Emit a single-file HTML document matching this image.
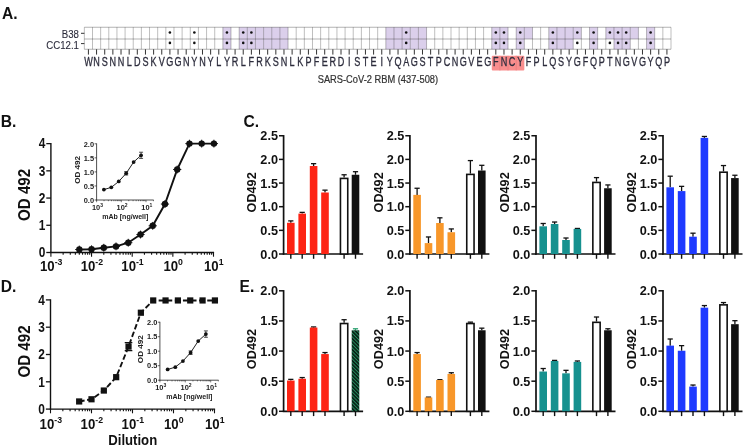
<!DOCTYPE html>
<html><head><meta charset="utf-8"><style>
html,body{margin:0;padding:0;background:#fff;width:744px;height:446px;overflow:hidden}
svg{display:block;filter:blur(0.3px)}
</style></head><body>
<svg width="744" height="446" viewBox="0 0 744 446">
<rect width="744" height="446" fill="#fff"/>
<text x="2" y="18.8" font-family="Liberation Sans, sans-serif" font-weight="bold" font-size="15.6" fill="#111">A.</text>
<rect x="222.86" y="27.25" width="8.15" height="11.65" fill="#dbcfeb"/>
<rect x="222.86" y="38.9" width="8.15" height="10.35" fill="#dbcfeb"/>
<rect x="239.16" y="27.25" width="8.15" height="11.65" fill="#dbcfeb"/>
<rect x="239.16" y="38.9" width="8.15" height="10.35" fill="#dbcfeb"/>
<rect x="247.31" y="27.25" width="8.15" height="11.65" fill="#dbcfeb"/>
<rect x="247.31" y="38.9" width="8.15" height="10.35" fill="#dbcfeb"/>
<rect x="255.46" y="27.25" width="8.15" height="11.65" fill="#dbcfeb"/>
<rect x="255.46" y="38.9" width="8.15" height="10.35" fill="#dbcfeb"/>
<rect x="263.60" y="27.25" width="8.15" height="11.65" fill="#dbcfeb"/>
<rect x="263.60" y="38.9" width="8.15" height="10.35" fill="#dbcfeb"/>
<rect x="271.75" y="27.25" width="8.15" height="11.65" fill="#dbcfeb"/>
<rect x="271.75" y="38.9" width="8.15" height="10.35" fill="#dbcfeb"/>
<rect x="279.90" y="27.25" width="8.15" height="11.65" fill="#dbcfeb"/>
<rect x="279.90" y="38.9" width="8.15" height="10.35" fill="#dbcfeb"/>
<rect x="385.82" y="27.25" width="8.15" height="11.65" fill="#dbcfeb"/>
<rect x="385.82" y="38.9" width="8.15" height="10.35" fill="#dbcfeb"/>
<rect x="393.97" y="27.25" width="8.15" height="11.65" fill="#dbcfeb"/>
<rect x="393.97" y="38.9" width="8.15" height="10.35" fill="#dbcfeb"/>
<rect x="402.12" y="27.25" width="8.15" height="11.65" fill="#dbcfeb"/>
<rect x="402.12" y="38.9" width="8.15" height="10.35" fill="#dbcfeb"/>
<rect x="410.27" y="27.25" width="8.15" height="11.65" fill="#dbcfeb"/>
<rect x="410.27" y="38.9" width="8.15" height="10.35" fill="#dbcfeb"/>
<rect x="418.41" y="27.25" width="8.15" height="11.65" fill="#dbcfeb"/>
<rect x="418.41" y="38.9" width="8.15" height="10.35" fill="#dbcfeb"/>
<rect x="491.75" y="27.25" width="8.15" height="11.65" fill="#dbcfeb"/>
<rect x="491.75" y="38.9" width="8.15" height="10.35" fill="#dbcfeb"/>
<rect x="499.89" y="27.25" width="8.15" height="11.65" fill="#dbcfeb"/>
<rect x="499.89" y="38.9" width="8.15" height="10.35" fill="#dbcfeb"/>
<rect x="516.19" y="27.25" width="8.15" height="11.65" fill="#dbcfeb"/>
<rect x="516.19" y="38.9" width="8.15" height="10.35" fill="#dbcfeb"/>
<rect x="524.34" y="27.25" width="8.15" height="11.65" fill="#dbcfeb"/>
<rect x="548.78" y="27.25" width="8.15" height="11.65" fill="#dbcfeb"/>
<rect x="548.78" y="38.9" width="8.15" height="10.35" fill="#dbcfeb"/>
<rect x="556.93" y="27.25" width="8.15" height="11.65" fill="#dbcfeb"/>
<rect x="556.93" y="38.9" width="8.15" height="10.35" fill="#dbcfeb"/>
<rect x="565.08" y="27.25" width="8.15" height="11.65" fill="#dbcfeb"/>
<rect x="565.08" y="38.9" width="8.15" height="10.35" fill="#dbcfeb"/>
<rect x="573.23" y="27.25" width="8.15" height="11.65" fill="#dbcfeb"/>
<rect x="589.52" y="27.25" width="8.15" height="11.65" fill="#dbcfeb"/>
<rect x="589.52" y="38.9" width="8.15" height="10.35" fill="#dbcfeb"/>
<rect x="605.82" y="27.25" width="8.15" height="11.65" fill="#dbcfeb"/>
<rect x="613.96" y="27.25" width="8.15" height="11.65" fill="#dbcfeb"/>
<rect x="613.96" y="38.9" width="8.15" height="10.35" fill="#dbcfeb"/>
<rect x="622.11" y="27.25" width="8.15" height="11.65" fill="#dbcfeb"/>
<rect x="622.11" y="38.9" width="8.15" height="10.35" fill="#dbcfeb"/>
<rect x="630.26" y="27.25" width="8.15" height="11.65" fill="#dbcfeb"/>
<rect x="646.56" y="27.25" width="8.15" height="11.65" fill="#dbcfeb"/>
<rect x="646.56" y="38.9" width="8.15" height="10.35" fill="#dbcfeb"/>
<line x1="84.35" y1="27.25" x2="84.35" y2="49.25" stroke="#000" stroke-opacity="0.27" stroke-width="0.95"/>
<line x1="92.50" y1="27.25" x2="92.50" y2="49.25" stroke="#000" stroke-opacity="0.27" stroke-width="0.95"/>
<line x1="100.65" y1="27.25" x2="100.65" y2="49.25" stroke="#000" stroke-opacity="0.27" stroke-width="0.95"/>
<line x1="108.79" y1="27.25" x2="108.79" y2="49.25" stroke="#000" stroke-opacity="0.27" stroke-width="0.95"/>
<line x1="116.94" y1="27.25" x2="116.94" y2="49.25" stroke="#000" stroke-opacity="0.27" stroke-width="0.95"/>
<line x1="125.09" y1="27.25" x2="125.09" y2="49.25" stroke="#000" stroke-opacity="0.27" stroke-width="0.95"/>
<line x1="133.24" y1="27.25" x2="133.24" y2="49.25" stroke="#000" stroke-opacity="0.27" stroke-width="0.95"/>
<line x1="141.39" y1="27.25" x2="141.39" y2="49.25" stroke="#000" stroke-opacity="0.27" stroke-width="0.95"/>
<line x1="149.53" y1="27.25" x2="149.53" y2="49.25" stroke="#000" stroke-opacity="0.27" stroke-width="0.95"/>
<line x1="157.68" y1="27.25" x2="157.68" y2="49.25" stroke="#000" stroke-opacity="0.27" stroke-width="0.95"/>
<line x1="165.83" y1="27.25" x2="165.83" y2="49.25" stroke="#000" stroke-opacity="0.27" stroke-width="0.95"/>
<line x1="173.98" y1="27.25" x2="173.98" y2="49.25" stroke="#000" stroke-opacity="0.27" stroke-width="0.95"/>
<line x1="182.12" y1="27.25" x2="182.12" y2="49.25" stroke="#000" stroke-opacity="0.27" stroke-width="0.95"/>
<line x1="190.27" y1="27.25" x2="190.27" y2="49.25" stroke="#000" stroke-opacity="0.27" stroke-width="0.95"/>
<line x1="198.42" y1="27.25" x2="198.42" y2="49.25" stroke="#000" stroke-opacity="0.27" stroke-width="0.95"/>
<line x1="206.57" y1="27.25" x2="206.57" y2="49.25" stroke="#000" stroke-opacity="0.27" stroke-width="0.95"/>
<line x1="214.72" y1="27.25" x2="214.72" y2="49.25" stroke="#000" stroke-opacity="0.27" stroke-width="0.95"/>
<line x1="222.86" y1="27.25" x2="222.86" y2="49.25" stroke="#000" stroke-opacity="0.27" stroke-width="0.95"/>
<line x1="231.01" y1="27.25" x2="231.01" y2="49.25" stroke="#000" stroke-opacity="0.27" stroke-width="0.95"/>
<line x1="239.16" y1="27.25" x2="239.16" y2="49.25" stroke="#000" stroke-opacity="0.27" stroke-width="0.95"/>
<line x1="247.31" y1="27.25" x2="247.31" y2="49.25" stroke="#000" stroke-opacity="0.27" stroke-width="0.95"/>
<line x1="255.46" y1="27.25" x2="255.46" y2="49.25" stroke="#000" stroke-opacity="0.27" stroke-width="0.95"/>
<line x1="263.60" y1="27.25" x2="263.60" y2="49.25" stroke="#000" stroke-opacity="0.27" stroke-width="0.95"/>
<line x1="271.75" y1="27.25" x2="271.75" y2="49.25" stroke="#000" stroke-opacity="0.27" stroke-width="0.95"/>
<line x1="279.90" y1="27.25" x2="279.90" y2="49.25" stroke="#000" stroke-opacity="0.27" stroke-width="0.95"/>
<line x1="288.05" y1="27.25" x2="288.05" y2="49.25" stroke="#000" stroke-opacity="0.27" stroke-width="0.95"/>
<line x1="296.20" y1="27.25" x2="296.20" y2="49.25" stroke="#000" stroke-opacity="0.27" stroke-width="0.95"/>
<line x1="304.34" y1="27.25" x2="304.34" y2="49.25" stroke="#000" stroke-opacity="0.27" stroke-width="0.95"/>
<line x1="312.49" y1="27.25" x2="312.49" y2="49.25" stroke="#000" stroke-opacity="0.27" stroke-width="0.95"/>
<line x1="320.64" y1="27.25" x2="320.64" y2="49.25" stroke="#000" stroke-opacity="0.27" stroke-width="0.95"/>
<line x1="328.79" y1="27.25" x2="328.79" y2="49.25" stroke="#000" stroke-opacity="0.27" stroke-width="0.95"/>
<line x1="336.94" y1="27.25" x2="336.94" y2="49.25" stroke="#000" stroke-opacity="0.27" stroke-width="0.95"/>
<line x1="345.08" y1="27.25" x2="345.08" y2="49.25" stroke="#000" stroke-opacity="0.27" stroke-width="0.95"/>
<line x1="353.23" y1="27.25" x2="353.23" y2="49.25" stroke="#000" stroke-opacity="0.27" stroke-width="0.95"/>
<line x1="361.38" y1="27.25" x2="361.38" y2="49.25" stroke="#000" stroke-opacity="0.27" stroke-width="0.95"/>
<line x1="369.53" y1="27.25" x2="369.53" y2="49.25" stroke="#000" stroke-opacity="0.27" stroke-width="0.95"/>
<line x1="377.68" y1="27.25" x2="377.68" y2="49.25" stroke="#000" stroke-opacity="0.27" stroke-width="0.95"/>
<line x1="385.82" y1="27.25" x2="385.82" y2="49.25" stroke="#000" stroke-opacity="0.27" stroke-width="0.95"/>
<line x1="393.97" y1="27.25" x2="393.97" y2="49.25" stroke="#000" stroke-opacity="0.27" stroke-width="0.95"/>
<line x1="402.12" y1="27.25" x2="402.12" y2="49.25" stroke="#000" stroke-opacity="0.27" stroke-width="0.95"/>
<line x1="410.27" y1="27.25" x2="410.27" y2="49.25" stroke="#000" stroke-opacity="0.27" stroke-width="0.95"/>
<line x1="418.41" y1="27.25" x2="418.41" y2="49.25" stroke="#000" stroke-opacity="0.27" stroke-width="0.95"/>
<line x1="426.56" y1="27.25" x2="426.56" y2="49.25" stroke="#000" stroke-opacity="0.27" stroke-width="0.95"/>
<line x1="434.71" y1="27.25" x2="434.71" y2="49.25" stroke="#000" stroke-opacity="0.27" stroke-width="0.95"/>
<line x1="442.86" y1="27.25" x2="442.86" y2="49.25" stroke="#000" stroke-opacity="0.27" stroke-width="0.95"/>
<line x1="451.01" y1="27.25" x2="451.01" y2="49.25" stroke="#000" stroke-opacity="0.27" stroke-width="0.95"/>
<line x1="459.15" y1="27.25" x2="459.15" y2="49.25" stroke="#000" stroke-opacity="0.27" stroke-width="0.95"/>
<line x1="467.30" y1="27.25" x2="467.30" y2="49.25" stroke="#000" stroke-opacity="0.27" stroke-width="0.95"/>
<line x1="475.45" y1="27.25" x2="475.45" y2="49.25" stroke="#000" stroke-opacity="0.27" stroke-width="0.95"/>
<line x1="483.60" y1="27.25" x2="483.60" y2="49.25" stroke="#000" stroke-opacity="0.27" stroke-width="0.95"/>
<line x1="491.75" y1="27.25" x2="491.75" y2="49.25" stroke="#000" stroke-opacity="0.27" stroke-width="0.95"/>
<line x1="499.89" y1="27.25" x2="499.89" y2="49.25" stroke="#000" stroke-opacity="0.27" stroke-width="0.95"/>
<line x1="508.04" y1="27.25" x2="508.04" y2="49.25" stroke="#000" stroke-opacity="0.27" stroke-width="0.95"/>
<line x1="516.19" y1="27.25" x2="516.19" y2="49.25" stroke="#000" stroke-opacity="0.27" stroke-width="0.95"/>
<line x1="524.34" y1="27.25" x2="524.34" y2="49.25" stroke="#000" stroke-opacity="0.27" stroke-width="0.95"/>
<line x1="532.49" y1="27.25" x2="532.49" y2="49.25" stroke="#000" stroke-opacity="0.27" stroke-width="0.95"/>
<line x1="540.63" y1="27.25" x2="540.63" y2="49.25" stroke="#000" stroke-opacity="0.27" stroke-width="0.95"/>
<line x1="548.78" y1="27.25" x2="548.78" y2="49.25" stroke="#000" stroke-opacity="0.27" stroke-width="0.95"/>
<line x1="556.93" y1="27.25" x2="556.93" y2="49.25" stroke="#000" stroke-opacity="0.27" stroke-width="0.95"/>
<line x1="565.08" y1="27.25" x2="565.08" y2="49.25" stroke="#000" stroke-opacity="0.27" stroke-width="0.95"/>
<line x1="573.23" y1="27.25" x2="573.23" y2="49.25" stroke="#000" stroke-opacity="0.27" stroke-width="0.95"/>
<line x1="581.37" y1="27.25" x2="581.37" y2="49.25" stroke="#000" stroke-opacity="0.27" stroke-width="0.95"/>
<line x1="589.52" y1="27.25" x2="589.52" y2="49.25" stroke="#000" stroke-opacity="0.27" stroke-width="0.95"/>
<line x1="597.67" y1="27.25" x2="597.67" y2="49.25" stroke="#000" stroke-opacity="0.27" stroke-width="0.95"/>
<line x1="605.82" y1="27.25" x2="605.82" y2="49.25" stroke="#000" stroke-opacity="0.27" stroke-width="0.95"/>
<line x1="613.96" y1="27.25" x2="613.96" y2="49.25" stroke="#000" stroke-opacity="0.27" stroke-width="0.95"/>
<line x1="622.11" y1="27.25" x2="622.11" y2="49.25" stroke="#000" stroke-opacity="0.27" stroke-width="0.95"/>
<line x1="630.26" y1="27.25" x2="630.26" y2="49.25" stroke="#000" stroke-opacity="0.27" stroke-width="0.95"/>
<line x1="638.41" y1="27.25" x2="638.41" y2="49.25" stroke="#000" stroke-opacity="0.27" stroke-width="0.95"/>
<line x1="646.56" y1="27.25" x2="646.56" y2="49.25" stroke="#000" stroke-opacity="0.27" stroke-width="0.95"/>
<line x1="654.70" y1="27.25" x2="654.70" y2="49.25" stroke="#000" stroke-opacity="0.27" stroke-width="0.95"/>
<line x1="662.85" y1="27.25" x2="662.85" y2="49.25" stroke="#000" stroke-opacity="0.27" stroke-width="0.95"/>
<line x1="671.00" y1="27.25" x2="671.00" y2="49.25" stroke="#000" stroke-opacity="0.27" stroke-width="0.95"/>
<line x1="84.35" y1="27.25" x2="671.00" y2="27.25" stroke="#000" stroke-opacity="0.3" stroke-width="1.05"/>
<line x1="84.35" y1="38.9" x2="671.00" y2="38.9" stroke="#000" stroke-opacity="0.3" stroke-width="1.05"/>
<line x1="84.35" y1="49.25" x2="671.00" y2="49.25" stroke="#000" stroke-opacity="0.3" stroke-width="1.05"/>
<line x1="88.42" y1="49.25" x2="88.42" y2="54.6" stroke="#333" stroke-width="1.0"/>
<line x1="96.57" y1="49.25" x2="96.57" y2="54.6" stroke="#333" stroke-width="1.0"/>
<line x1="104.72" y1="49.25" x2="104.72" y2="54.6" stroke="#333" stroke-width="1.0"/>
<line x1="112.87" y1="49.25" x2="112.87" y2="54.6" stroke="#333" stroke-width="1.0"/>
<line x1="121.02" y1="49.25" x2="121.02" y2="54.6" stroke="#333" stroke-width="1.0"/>
<line x1="129.16" y1="49.25" x2="129.16" y2="54.6" stroke="#333" stroke-width="1.0"/>
<line x1="137.31" y1="49.25" x2="137.31" y2="54.6" stroke="#333" stroke-width="1.0"/>
<line x1="145.46" y1="49.25" x2="145.46" y2="54.6" stroke="#333" stroke-width="1.0"/>
<line x1="153.61" y1="49.25" x2="153.61" y2="54.6" stroke="#333" stroke-width="1.0"/>
<line x1="161.76" y1="49.25" x2="161.76" y2="54.6" stroke="#333" stroke-width="1.0"/>
<circle cx="169.90" cy="32.5" r="1.3" fill="#111"/>
<circle cx="169.90" cy="42.9" r="1.3" fill="#111"/>
<line x1="169.90" y1="49.25" x2="169.90" y2="54.6" stroke="#333" stroke-width="1.0"/>
<line x1="178.05" y1="49.25" x2="178.05" y2="54.6" stroke="#333" stroke-width="1.0"/>
<line x1="186.20" y1="49.25" x2="186.20" y2="54.6" stroke="#333" stroke-width="1.0"/>
<circle cx="194.35" cy="32.5" r="1.3" fill="#111"/>
<circle cx="194.35" cy="42.9" r="1.3" fill="#111"/>
<line x1="194.35" y1="49.25" x2="194.35" y2="54.6" stroke="#333" stroke-width="1.0"/>
<line x1="202.49" y1="49.25" x2="202.49" y2="54.6" stroke="#333" stroke-width="1.0"/>
<line x1="210.64" y1="49.25" x2="210.64" y2="54.6" stroke="#333" stroke-width="1.0"/>
<line x1="218.79" y1="49.25" x2="218.79" y2="54.6" stroke="#333" stroke-width="1.0"/>
<circle cx="226.94" cy="32.5" r="1.3" fill="#111"/>
<circle cx="226.94" cy="42.9" r="1.3" fill="#111"/>
<line x1="226.94" y1="49.25" x2="226.94" y2="54.6" stroke="#333" stroke-width="1.0"/>
<line x1="235.09" y1="49.25" x2="235.09" y2="54.6" stroke="#333" stroke-width="1.0"/>
<circle cx="243.23" cy="32.5" r="1.3" fill="#111"/>
<circle cx="243.23" cy="42.9" r="1.3" fill="#111"/>
<line x1="243.23" y1="49.25" x2="243.23" y2="54.6" stroke="#333" stroke-width="1.0"/>
<circle cx="251.38" cy="32.5" r="1.3" fill="#111"/>
<circle cx="251.38" cy="42.9" r="1.3" fill="#111"/>
<line x1="251.38" y1="49.25" x2="251.38" y2="54.6" stroke="#333" stroke-width="1.0"/>
<line x1="259.53" y1="49.25" x2="259.53" y2="54.6" stroke="#333" stroke-width="1.0"/>
<line x1="267.68" y1="49.25" x2="267.68" y2="54.6" stroke="#333" stroke-width="1.0"/>
<line x1="275.83" y1="49.25" x2="275.83" y2="54.6" stroke="#333" stroke-width="1.0"/>
<line x1="283.97" y1="49.25" x2="283.97" y2="54.6" stroke="#333" stroke-width="1.0"/>
<line x1="292.12" y1="49.25" x2="292.12" y2="54.6" stroke="#333" stroke-width="1.0"/>
<line x1="300.27" y1="49.25" x2="300.27" y2="54.6" stroke="#333" stroke-width="1.0"/>
<line x1="308.42" y1="49.25" x2="308.42" y2="54.6" stroke="#333" stroke-width="1.0"/>
<line x1="316.57" y1="49.25" x2="316.57" y2="54.6" stroke="#333" stroke-width="1.0"/>
<line x1="324.71" y1="49.25" x2="324.71" y2="54.6" stroke="#333" stroke-width="1.0"/>
<line x1="332.86" y1="49.25" x2="332.86" y2="54.6" stroke="#333" stroke-width="1.0"/>
<line x1="341.01" y1="49.25" x2="341.01" y2="54.6" stroke="#333" stroke-width="1.0"/>
<line x1="349.16" y1="49.25" x2="349.16" y2="54.6" stroke="#333" stroke-width="1.0"/>
<line x1="357.31" y1="49.25" x2="357.31" y2="54.6" stroke="#333" stroke-width="1.0"/>
<line x1="365.45" y1="49.25" x2="365.45" y2="54.6" stroke="#333" stroke-width="1.0"/>
<line x1="373.60" y1="49.25" x2="373.60" y2="54.6" stroke="#333" stroke-width="1.0"/>
<line x1="381.75" y1="49.25" x2="381.75" y2="54.6" stroke="#333" stroke-width="1.0"/>
<line x1="389.90" y1="49.25" x2="389.90" y2="54.6" stroke="#333" stroke-width="1.0"/>
<line x1="398.04" y1="49.25" x2="398.04" y2="54.6" stroke="#333" stroke-width="1.0"/>
<circle cx="406.19" cy="32.5" r="1.3" fill="#111"/>
<circle cx="406.19" cy="42.9" r="1.3" fill="#111"/>
<line x1="406.19" y1="49.25" x2="406.19" y2="54.6" stroke="#333" stroke-width="1.0"/>
<line x1="414.34" y1="49.25" x2="414.34" y2="54.6" stroke="#333" stroke-width="1.0"/>
<line x1="422.49" y1="49.25" x2="422.49" y2="54.6" stroke="#333" stroke-width="1.0"/>
<line x1="430.64" y1="49.25" x2="430.64" y2="54.6" stroke="#333" stroke-width="1.0"/>
<line x1="438.78" y1="49.25" x2="438.78" y2="54.6" stroke="#333" stroke-width="1.0"/>
<line x1="446.93" y1="49.25" x2="446.93" y2="54.6" stroke="#333" stroke-width="1.0"/>
<line x1="455.08" y1="49.25" x2="455.08" y2="54.6" stroke="#333" stroke-width="1.0"/>
<line x1="463.23" y1="49.25" x2="463.23" y2="54.6" stroke="#333" stroke-width="1.0"/>
<line x1="471.38" y1="49.25" x2="471.38" y2="54.6" stroke="#333" stroke-width="1.0"/>
<line x1="479.52" y1="49.25" x2="479.52" y2="54.6" stroke="#333" stroke-width="1.0"/>
<line x1="487.67" y1="49.25" x2="487.67" y2="54.6" stroke="#333" stroke-width="1.0"/>
<circle cx="495.82" cy="32.5" r="1.3" fill="#111"/>
<circle cx="495.82" cy="42.9" r="1.3" fill="#111"/>
<line x1="495.82" y1="49.25" x2="495.82" y2="54.6" stroke="#333" stroke-width="1.0"/>
<circle cx="503.97" cy="32.5" r="1.3" fill="#111"/>
<circle cx="503.97" cy="42.9" r="1.3" fill="#111"/>
<line x1="503.97" y1="49.25" x2="503.97" y2="54.6" stroke="#333" stroke-width="1.0"/>
<line x1="512.12" y1="49.25" x2="512.12" y2="54.6" stroke="#333" stroke-width="1.0"/>
<circle cx="520.26" cy="32.5" r="1.3" fill="#111"/>
<circle cx="520.26" cy="42.9" r="1.3" fill="#111"/>
<line x1="520.26" y1="49.25" x2="520.26" y2="54.6" stroke="#333" stroke-width="1.0"/>
<line x1="528.41" y1="49.25" x2="528.41" y2="54.6" stroke="#333" stroke-width="1.0"/>
<line x1="536.56" y1="49.25" x2="536.56" y2="54.6" stroke="#333" stroke-width="1.0"/>
<line x1="544.71" y1="49.25" x2="544.71" y2="54.6" stroke="#333" stroke-width="1.0"/>
<circle cx="552.86" cy="32.5" r="1.3" fill="#111"/>
<circle cx="552.86" cy="42.9" r="1.3" fill="#111"/>
<line x1="552.86" y1="49.25" x2="552.86" y2="54.6" stroke="#333" stroke-width="1.0"/>
<line x1="561.00" y1="49.25" x2="561.00" y2="54.6" stroke="#333" stroke-width="1.0"/>
<line x1="569.15" y1="49.25" x2="569.15" y2="54.6" stroke="#333" stroke-width="1.0"/>
<circle cx="577.30" cy="32.5" r="1.3" fill="#111"/>
<circle cx="577.30" cy="42.9" r="1.3" fill="#111"/>
<line x1="577.30" y1="49.25" x2="577.30" y2="54.6" stroke="#333" stroke-width="1.0"/>
<line x1="585.45" y1="49.25" x2="585.45" y2="54.6" stroke="#333" stroke-width="1.0"/>
<circle cx="593.59" cy="32.5" r="1.3" fill="#111"/>
<circle cx="593.59" cy="42.9" r="1.3" fill="#111"/>
<line x1="593.59" y1="49.25" x2="593.59" y2="54.6" stroke="#333" stroke-width="1.0"/>
<line x1="601.74" y1="49.25" x2="601.74" y2="54.6" stroke="#333" stroke-width="1.0"/>
<circle cx="609.89" cy="32.5" r="1.3" fill="#111"/>
<circle cx="609.89" cy="42.9" r="1.3" fill="#111"/>
<line x1="609.89" y1="49.25" x2="609.89" y2="54.6" stroke="#333" stroke-width="1.0"/>
<circle cx="618.04" cy="32.5" r="1.3" fill="#111"/>
<circle cx="618.04" cy="42.9" r="1.3" fill="#111"/>
<line x1="618.04" y1="49.25" x2="618.04" y2="54.6" stroke="#333" stroke-width="1.0"/>
<circle cx="626.19" cy="32.5" r="1.3" fill="#111"/>
<circle cx="626.19" cy="42.9" r="1.3" fill="#111"/>
<line x1="626.19" y1="49.25" x2="626.19" y2="54.6" stroke="#333" stroke-width="1.0"/>
<line x1="634.33" y1="49.25" x2="634.33" y2="54.6" stroke="#333" stroke-width="1.0"/>
<line x1="642.48" y1="49.25" x2="642.48" y2="54.6" stroke="#333" stroke-width="1.0"/>
<circle cx="650.63" cy="32.5" r="1.3" fill="#111"/>
<circle cx="650.63" cy="42.9" r="1.3" fill="#111"/>
<line x1="650.63" y1="49.25" x2="650.63" y2="54.6" stroke="#333" stroke-width="1.0"/>
<line x1="658.78" y1="49.25" x2="658.78" y2="54.6" stroke="#333" stroke-width="1.0"/>
<line x1="666.93" y1="49.25" x2="666.93" y2="54.6" stroke="#333" stroke-width="1.0"/>
<rect x="491.75" y="55.7" width="32.59" height="14.8" rx="1" fill="#f98e8e"/>
<line x1="499.89" y1="55.7" x2="499.89" y2="70.5" stroke="#e87878" stroke-width="0.6"/>
<line x1="508.04" y1="55.7" x2="508.04" y2="70.5" stroke="#e87878" stroke-width="0.6"/>
<line x1="516.19" y1="55.7" x2="516.19" y2="70.5" stroke="#e87878" stroke-width="0.6"/>
<text x="117.90" y="66.5" transform="scale(0.75,1)" font-family="Liberation Sans, sans-serif" font-size="12.1" fill="#2c2c3c" stroke="#2c2c3c" stroke-width="0.3" text-anchor="middle">W</text>
<text x="128.76" y="66.5" transform="scale(0.75,1)" font-family="Liberation Sans, sans-serif" font-size="12.1" fill="#2c2c3c" stroke="#2c2c3c" stroke-width="0.3" text-anchor="middle">N</text>
<text x="139.63" y="66.5" transform="scale(0.75,1)" font-family="Liberation Sans, sans-serif" font-size="12.1" fill="#2c2c3c" stroke="#2c2c3c" stroke-width="0.3" text-anchor="middle">S</text>
<text x="150.49" y="66.5" transform="scale(0.75,1)" font-family="Liberation Sans, sans-serif" font-size="12.1" fill="#2c2c3c" stroke="#2c2c3c" stroke-width="0.3" text-anchor="middle">N</text>
<text x="161.35" y="66.5" transform="scale(0.75,1)" font-family="Liberation Sans, sans-serif" font-size="12.1" fill="#2c2c3c" stroke="#2c2c3c" stroke-width="0.3" text-anchor="middle">N</text>
<text x="172.22" y="66.5" transform="scale(0.75,1)" font-family="Liberation Sans, sans-serif" font-size="12.1" fill="#2c2c3c" stroke="#2c2c3c" stroke-width="0.3" text-anchor="middle">L</text>
<text x="183.08" y="66.5" transform="scale(0.75,1)" font-family="Liberation Sans, sans-serif" font-size="12.1" fill="#2c2c3c" stroke="#2c2c3c" stroke-width="0.3" text-anchor="middle">D</text>
<text x="193.95" y="66.5" transform="scale(0.75,1)" font-family="Liberation Sans, sans-serif" font-size="12.1" fill="#2c2c3c" stroke="#2c2c3c" stroke-width="0.3" text-anchor="middle">S</text>
<text x="204.81" y="66.5" transform="scale(0.75,1)" font-family="Liberation Sans, sans-serif" font-size="12.1" fill="#2c2c3c" stroke="#2c2c3c" stroke-width="0.3" text-anchor="middle">K</text>
<text x="215.67" y="66.5" transform="scale(0.75,1)" font-family="Liberation Sans, sans-serif" font-size="12.1" fill="#2c2c3c" stroke="#2c2c3c" stroke-width="0.3" text-anchor="middle">V</text>
<text x="226.54" y="66.5" transform="scale(0.75,1)" font-family="Liberation Sans, sans-serif" font-size="12.1" fill="#2c2c3c" stroke="#2c2c3c" stroke-width="0.3" text-anchor="middle">G</text>
<text x="237.40" y="66.5" transform="scale(0.75,1)" font-family="Liberation Sans, sans-serif" font-size="12.1" fill="#2c2c3c" stroke="#2c2c3c" stroke-width="0.3" text-anchor="middle">G</text>
<text x="248.27" y="66.5" transform="scale(0.75,1)" font-family="Liberation Sans, sans-serif" font-size="12.1" fill="#2c2c3c" stroke="#2c2c3c" stroke-width="0.3" text-anchor="middle">N</text>
<text x="259.13" y="66.5" transform="scale(0.75,1)" font-family="Liberation Sans, sans-serif" font-size="12.1" fill="#2c2c3c" stroke="#2c2c3c" stroke-width="0.3" text-anchor="middle">Y</text>
<text x="269.99" y="66.5" transform="scale(0.75,1)" font-family="Liberation Sans, sans-serif" font-size="12.1" fill="#2c2c3c" stroke="#2c2c3c" stroke-width="0.3" text-anchor="middle">N</text>
<text x="280.86" y="66.5" transform="scale(0.75,1)" font-family="Liberation Sans, sans-serif" font-size="12.1" fill="#2c2c3c" stroke="#2c2c3c" stroke-width="0.3" text-anchor="middle">Y</text>
<text x="291.72" y="66.5" transform="scale(0.75,1)" font-family="Liberation Sans, sans-serif" font-size="12.1" fill="#2c2c3c" stroke="#2c2c3c" stroke-width="0.3" text-anchor="middle">L</text>
<text x="302.58" y="66.5" transform="scale(0.75,1)" font-family="Liberation Sans, sans-serif" font-size="12.1" fill="#2c2c3c" stroke="#2c2c3c" stroke-width="0.3" text-anchor="middle">Y</text>
<text x="313.45" y="66.5" transform="scale(0.75,1)" font-family="Liberation Sans, sans-serif" font-size="12.1" fill="#2c2c3c" stroke="#2c2c3c" stroke-width="0.3" text-anchor="middle">R</text>
<text x="324.31" y="66.5" transform="scale(0.75,1)" font-family="Liberation Sans, sans-serif" font-size="12.1" fill="#2c2c3c" stroke="#2c2c3c" stroke-width="0.3" text-anchor="middle">L</text>
<text x="335.18" y="66.5" transform="scale(0.75,1)" font-family="Liberation Sans, sans-serif" font-size="12.1" fill="#2c2c3c" stroke="#2c2c3c" stroke-width="0.3" text-anchor="middle">F</text>
<text x="346.04" y="66.5" transform="scale(0.75,1)" font-family="Liberation Sans, sans-serif" font-size="12.1" fill="#2c2c3c" stroke="#2c2c3c" stroke-width="0.3" text-anchor="middle">R</text>
<text x="356.90" y="66.5" transform="scale(0.75,1)" font-family="Liberation Sans, sans-serif" font-size="12.1" fill="#2c2c3c" stroke="#2c2c3c" stroke-width="0.3" text-anchor="middle">K</text>
<text x="367.77" y="66.5" transform="scale(0.75,1)" font-family="Liberation Sans, sans-serif" font-size="12.1" fill="#2c2c3c" stroke="#2c2c3c" stroke-width="0.3" text-anchor="middle">S</text>
<text x="378.63" y="66.5" transform="scale(0.75,1)" font-family="Liberation Sans, sans-serif" font-size="12.1" fill="#2c2c3c" stroke="#2c2c3c" stroke-width="0.3" text-anchor="middle">N</text>
<text x="389.50" y="66.5" transform="scale(0.75,1)" font-family="Liberation Sans, sans-serif" font-size="12.1" fill="#2c2c3c" stroke="#2c2c3c" stroke-width="0.3" text-anchor="middle">L</text>
<text x="400.36" y="66.5" transform="scale(0.75,1)" font-family="Liberation Sans, sans-serif" font-size="12.1" fill="#2c2c3c" stroke="#2c2c3c" stroke-width="0.3" text-anchor="middle">K</text>
<text x="411.22" y="66.5" transform="scale(0.75,1)" font-family="Liberation Sans, sans-serif" font-size="12.1" fill="#2c2c3c" stroke="#2c2c3c" stroke-width="0.3" text-anchor="middle">P</text>
<text x="422.09" y="66.5" transform="scale(0.75,1)" font-family="Liberation Sans, sans-serif" font-size="12.1" fill="#2c2c3c" stroke="#2c2c3c" stroke-width="0.3" text-anchor="middle">F</text>
<text x="432.95" y="66.5" transform="scale(0.75,1)" font-family="Liberation Sans, sans-serif" font-size="12.1" fill="#2c2c3c" stroke="#2c2c3c" stroke-width="0.3" text-anchor="middle">E</text>
<text x="443.82" y="66.5" transform="scale(0.75,1)" font-family="Liberation Sans, sans-serif" font-size="12.1" fill="#2c2c3c" stroke="#2c2c3c" stroke-width="0.3" text-anchor="middle">R</text>
<text x="454.68" y="66.5" transform="scale(0.75,1)" font-family="Liberation Sans, sans-serif" font-size="12.1" fill="#2c2c3c" stroke="#2c2c3c" stroke-width="0.3" text-anchor="middle">D</text>
<text x="465.54" y="66.5" transform="scale(0.75,1)" font-family="Liberation Sans, sans-serif" font-size="12.1" fill="#2c2c3c" stroke="#2c2c3c" stroke-width="0.3" text-anchor="middle">I</text>
<text x="476.41" y="66.5" transform="scale(0.75,1)" font-family="Liberation Sans, sans-serif" font-size="12.1" fill="#2c2c3c" stroke="#2c2c3c" stroke-width="0.3" text-anchor="middle">S</text>
<text x="487.27" y="66.5" transform="scale(0.75,1)" font-family="Liberation Sans, sans-serif" font-size="12.1" fill="#2c2c3c" stroke="#2c2c3c" stroke-width="0.3" text-anchor="middle">T</text>
<text x="498.13" y="66.5" transform="scale(0.75,1)" font-family="Liberation Sans, sans-serif" font-size="12.1" fill="#2c2c3c" stroke="#2c2c3c" stroke-width="0.3" text-anchor="middle">E</text>
<text x="509.00" y="66.5" transform="scale(0.75,1)" font-family="Liberation Sans, sans-serif" font-size="12.1" fill="#2c2c3c" stroke="#2c2c3c" stroke-width="0.3" text-anchor="middle">I</text>
<text x="519.86" y="66.5" transform="scale(0.75,1)" font-family="Liberation Sans, sans-serif" font-size="12.1" fill="#2c2c3c" stroke="#2c2c3c" stroke-width="0.3" text-anchor="middle">Y</text>
<text x="530.73" y="66.5" transform="scale(0.75,1)" font-family="Liberation Sans, sans-serif" font-size="12.1" fill="#2c2c3c" stroke="#2c2c3c" stroke-width="0.3" text-anchor="middle">Q</text>
<text x="541.59" y="66.5" transform="scale(0.75,1)" font-family="Liberation Sans, sans-serif" font-size="12.1" fill="#2c2c3c" stroke="#2c2c3c" stroke-width="0.3" text-anchor="middle">A</text>
<text x="552.45" y="66.5" transform="scale(0.75,1)" font-family="Liberation Sans, sans-serif" font-size="12.1" fill="#2c2c3c" stroke="#2c2c3c" stroke-width="0.3" text-anchor="middle">G</text>
<text x="563.32" y="66.5" transform="scale(0.75,1)" font-family="Liberation Sans, sans-serif" font-size="12.1" fill="#2c2c3c" stroke="#2c2c3c" stroke-width="0.3" text-anchor="middle">S</text>
<text x="574.18" y="66.5" transform="scale(0.75,1)" font-family="Liberation Sans, sans-serif" font-size="12.1" fill="#2c2c3c" stroke="#2c2c3c" stroke-width="0.3" text-anchor="middle">T</text>
<text x="585.05" y="66.5" transform="scale(0.75,1)" font-family="Liberation Sans, sans-serif" font-size="12.1" fill="#2c2c3c" stroke="#2c2c3c" stroke-width="0.3" text-anchor="middle">P</text>
<text x="595.91" y="66.5" transform="scale(0.75,1)" font-family="Liberation Sans, sans-serif" font-size="12.1" fill="#2c2c3c" stroke="#2c2c3c" stroke-width="0.3" text-anchor="middle">C</text>
<text x="606.77" y="66.5" transform="scale(0.75,1)" font-family="Liberation Sans, sans-serif" font-size="12.1" fill="#2c2c3c" stroke="#2c2c3c" stroke-width="0.3" text-anchor="middle">N</text>
<text x="617.64" y="66.5" transform="scale(0.75,1)" font-family="Liberation Sans, sans-serif" font-size="12.1" fill="#2c2c3c" stroke="#2c2c3c" stroke-width="0.3" text-anchor="middle">G</text>
<text x="628.50" y="66.5" transform="scale(0.75,1)" font-family="Liberation Sans, sans-serif" font-size="12.1" fill="#2c2c3c" stroke="#2c2c3c" stroke-width="0.3" text-anchor="middle">V</text>
<text x="639.37" y="66.5" transform="scale(0.75,1)" font-family="Liberation Sans, sans-serif" font-size="12.1" fill="#2c2c3c" stroke="#2c2c3c" stroke-width="0.3" text-anchor="middle">E</text>
<text x="650.23" y="66.5" transform="scale(0.75,1)" font-family="Liberation Sans, sans-serif" font-size="12.1" fill="#2c2c3c" stroke="#2c2c3c" stroke-width="0.3" text-anchor="middle">G</text>
<text x="661.09" y="66.5" transform="scale(0.75,1)" font-family="Liberation Sans, sans-serif" font-size="12.1" fill="#2c2c3c" stroke="#2c2c3c" stroke-width="0.3" text-anchor="middle">F</text>
<text x="671.96" y="66.5" transform="scale(0.75,1)" font-family="Liberation Sans, sans-serif" font-size="12.1" fill="#2c2c3c" stroke="#2c2c3c" stroke-width="0.3" text-anchor="middle">N</text>
<text x="682.82" y="66.5" transform="scale(0.75,1)" font-family="Liberation Sans, sans-serif" font-size="12.1" fill="#2c2c3c" stroke="#2c2c3c" stroke-width="0.3" text-anchor="middle">C</text>
<text x="693.68" y="66.5" transform="scale(0.75,1)" font-family="Liberation Sans, sans-serif" font-size="12.1" fill="#2c2c3c" stroke="#2c2c3c" stroke-width="0.3" text-anchor="middle">Y</text>
<text x="704.55" y="66.5" transform="scale(0.75,1)" font-family="Liberation Sans, sans-serif" font-size="12.1" fill="#2c2c3c" stroke="#2c2c3c" stroke-width="0.3" text-anchor="middle">F</text>
<text x="715.41" y="66.5" transform="scale(0.75,1)" font-family="Liberation Sans, sans-serif" font-size="12.1" fill="#2c2c3c" stroke="#2c2c3c" stroke-width="0.3" text-anchor="middle">P</text>
<text x="726.28" y="66.5" transform="scale(0.75,1)" font-family="Liberation Sans, sans-serif" font-size="12.1" fill="#2c2c3c" stroke="#2c2c3c" stroke-width="0.3" text-anchor="middle">L</text>
<text x="737.14" y="66.5" transform="scale(0.75,1)" font-family="Liberation Sans, sans-serif" font-size="12.1" fill="#2c2c3c" stroke="#2c2c3c" stroke-width="0.3" text-anchor="middle">Q</text>
<text x="748.00" y="66.5" transform="scale(0.75,1)" font-family="Liberation Sans, sans-serif" font-size="12.1" fill="#2c2c3c" stroke="#2c2c3c" stroke-width="0.3" text-anchor="middle">S</text>
<text x="758.87" y="66.5" transform="scale(0.75,1)" font-family="Liberation Sans, sans-serif" font-size="12.1" fill="#2c2c3c" stroke="#2c2c3c" stroke-width="0.3" text-anchor="middle">Y</text>
<text x="769.73" y="66.5" transform="scale(0.75,1)" font-family="Liberation Sans, sans-serif" font-size="12.1" fill="#2c2c3c" stroke="#2c2c3c" stroke-width="0.3" text-anchor="middle">G</text>
<text x="780.60" y="66.5" transform="scale(0.75,1)" font-family="Liberation Sans, sans-serif" font-size="12.1" fill="#2c2c3c" stroke="#2c2c3c" stroke-width="0.3" text-anchor="middle">F</text>
<text x="791.46" y="66.5" transform="scale(0.75,1)" font-family="Liberation Sans, sans-serif" font-size="12.1" fill="#2c2c3c" stroke="#2c2c3c" stroke-width="0.3" text-anchor="middle">Q</text>
<text x="802.32" y="66.5" transform="scale(0.75,1)" font-family="Liberation Sans, sans-serif" font-size="12.1" fill="#2c2c3c" stroke="#2c2c3c" stroke-width="0.3" text-anchor="middle">P</text>
<text x="813.19" y="66.5" transform="scale(0.75,1)" font-family="Liberation Sans, sans-serif" font-size="12.1" fill="#2c2c3c" stroke="#2c2c3c" stroke-width="0.3" text-anchor="middle">T</text>
<text x="824.05" y="66.5" transform="scale(0.75,1)" font-family="Liberation Sans, sans-serif" font-size="12.1" fill="#2c2c3c" stroke="#2c2c3c" stroke-width="0.3" text-anchor="middle">N</text>
<text x="834.92" y="66.5" transform="scale(0.75,1)" font-family="Liberation Sans, sans-serif" font-size="12.1" fill="#2c2c3c" stroke="#2c2c3c" stroke-width="0.3" text-anchor="middle">G</text>
<text x="845.78" y="66.5" transform="scale(0.75,1)" font-family="Liberation Sans, sans-serif" font-size="12.1" fill="#2c2c3c" stroke="#2c2c3c" stroke-width="0.3" text-anchor="middle">V</text>
<text x="856.64" y="66.5" transform="scale(0.75,1)" font-family="Liberation Sans, sans-serif" font-size="12.1" fill="#2c2c3c" stroke="#2c2c3c" stroke-width="0.3" text-anchor="middle">G</text>
<text x="867.51" y="66.5" transform="scale(0.75,1)" font-family="Liberation Sans, sans-serif" font-size="12.1" fill="#2c2c3c" stroke="#2c2c3c" stroke-width="0.3" text-anchor="middle">Y</text>
<text x="878.37" y="66.5" transform="scale(0.75,1)" font-family="Liberation Sans, sans-serif" font-size="12.1" fill="#2c2c3c" stroke="#2c2c3c" stroke-width="0.3" text-anchor="middle">Q</text>
<text x="889.23" y="66.5" transform="scale(0.75,1)" font-family="Liberation Sans, sans-serif" font-size="12.1" fill="#2c2c3c" stroke="#2c2c3c" stroke-width="0.3" text-anchor="middle">P</text>
<line x1="81" y1="33.3" x2="84.4" y2="33.3" stroke="#333" stroke-width="1"/>
<line x1="81" y1="43.6" x2="84.4" y2="43.6" stroke="#333" stroke-width="1"/>
<text x="96.34" y="37.6" transform="scale(0.82,1)" font-family="Liberation Sans, sans-serif" font-size="11.8" fill="#2c2c3c" stroke="#2c2c3c" stroke-width="0.1" text-anchor="end">B38</text>
<text x="96.34" y="48.9" transform="scale(0.82,1)" font-family="Liberation Sans, sans-serif" font-size="11.8" fill="#2c2c3c" stroke="#2c2c3c" stroke-width="0.1" text-anchor="end">CC12.1</text>
<text x="422.23" y="82.8" transform="scale(0.895,1)" font-family="Liberation Sans, sans-serif" font-size="10.4" fill="#333" stroke="#333" stroke-width="0.22" text-anchor="middle">SARS-CoV-2 RBM (437-508)</text>
<text x="0.8" y="126.6" font-family="Liberation Sans, sans-serif" font-weight="bold" font-size="15.6" fill="#111">B.</text>
<line x1="50.9" y1="143.02" x2="50.9" y2="253.1" stroke="#111" stroke-width="1.4"/>
<line x1="50.3" y1="252.5" x2="214.1" y2="252.5" stroke="#111" stroke-width="1.4"/>
<line x1="46.3" y1="252.50" x2="50.9" y2="252.50" stroke="#111" stroke-width="1.3"/>
<text transform="translate(45.30,257.25) scale(0.93,1.09)" font-family="Liberation Sans, sans-serif" font-weight="bold" font-size="12.8" fill="#111" text-anchor="end">0</text>
<line x1="46.3" y1="225.28" x2="50.9" y2="225.28" stroke="#111" stroke-width="1.3"/>
<text transform="translate(45.30,230.03) scale(0.93,1.09)" font-family="Liberation Sans, sans-serif" font-weight="bold" font-size="12.8" fill="#111" text-anchor="end">1</text>
<line x1="46.3" y1="198.06" x2="50.9" y2="198.06" stroke="#111" stroke-width="1.3"/>
<text transform="translate(45.30,202.81) scale(0.93,1.09)" font-family="Liberation Sans, sans-serif" font-weight="bold" font-size="12.8" fill="#111" text-anchor="end">2</text>
<line x1="46.3" y1="170.84" x2="50.9" y2="170.84" stroke="#111" stroke-width="1.3"/>
<text transform="translate(45.30,175.59) scale(0.93,1.09)" font-family="Liberation Sans, sans-serif" font-weight="bold" font-size="12.8" fill="#111" text-anchor="end">3</text>
<line x1="46.3" y1="143.62" x2="50.9" y2="143.62" stroke="#111" stroke-width="1.3"/>
<text transform="translate(45.30,148.37) scale(0.93,1.09)" font-family="Liberation Sans, sans-serif" font-weight="bold" font-size="12.8" fill="#111" text-anchor="end">4</text>
<line x1="50.90" y1="252.5" x2="50.90" y2="256.7" stroke="#111" stroke-width="1.1"/>
<line x1="63.14" y1="252.5" x2="63.14" y2="254.7" stroke="#111" stroke-width="1.1"/>
<line x1="70.29" y1="252.5" x2="70.29" y2="254.7" stroke="#111" stroke-width="1.1"/>
<line x1="75.37" y1="252.5" x2="75.37" y2="254.7" stroke="#111" stroke-width="1.1"/>
<line x1="79.31" y1="252.5" x2="79.31" y2="254.7" stroke="#111" stroke-width="1.1"/>
<line x1="82.53" y1="252.5" x2="82.53" y2="254.7" stroke="#111" stroke-width="1.1"/>
<line x1="85.25" y1="252.5" x2="85.25" y2="254.7" stroke="#111" stroke-width="1.1"/>
<line x1="87.61" y1="252.5" x2="87.61" y2="254.7" stroke="#111" stroke-width="1.1"/>
<line x1="89.69" y1="252.5" x2="89.69" y2="254.7" stroke="#111" stroke-width="1.1"/>
<line x1="91.55" y1="252.5" x2="91.55" y2="256.7" stroke="#111" stroke-width="1.1"/>
<line x1="103.79" y1="252.5" x2="103.79" y2="254.7" stroke="#111" stroke-width="1.1"/>
<line x1="110.94" y1="252.5" x2="110.94" y2="254.7" stroke="#111" stroke-width="1.1"/>
<line x1="116.02" y1="252.5" x2="116.02" y2="254.7" stroke="#111" stroke-width="1.1"/>
<line x1="119.96" y1="252.5" x2="119.96" y2="254.7" stroke="#111" stroke-width="1.1"/>
<line x1="123.18" y1="252.5" x2="123.18" y2="254.7" stroke="#111" stroke-width="1.1"/>
<line x1="125.90" y1="252.5" x2="125.90" y2="254.7" stroke="#111" stroke-width="1.1"/>
<line x1="128.26" y1="252.5" x2="128.26" y2="254.7" stroke="#111" stroke-width="1.1"/>
<line x1="130.34" y1="252.5" x2="130.34" y2="254.7" stroke="#111" stroke-width="1.1"/>
<line x1="132.20" y1="252.5" x2="132.20" y2="256.7" stroke="#111" stroke-width="1.1"/>
<line x1="144.44" y1="252.5" x2="144.44" y2="254.7" stroke="#111" stroke-width="1.1"/>
<line x1="151.59" y1="252.5" x2="151.59" y2="254.7" stroke="#111" stroke-width="1.1"/>
<line x1="156.67" y1="252.5" x2="156.67" y2="254.7" stroke="#111" stroke-width="1.1"/>
<line x1="160.61" y1="252.5" x2="160.61" y2="254.7" stroke="#111" stroke-width="1.1"/>
<line x1="163.83" y1="252.5" x2="163.83" y2="254.7" stroke="#111" stroke-width="1.1"/>
<line x1="166.55" y1="252.5" x2="166.55" y2="254.7" stroke="#111" stroke-width="1.1"/>
<line x1="168.91" y1="252.5" x2="168.91" y2="254.7" stroke="#111" stroke-width="1.1"/>
<line x1="170.99" y1="252.5" x2="170.99" y2="254.7" stroke="#111" stroke-width="1.1"/>
<line x1="172.85" y1="252.5" x2="172.85" y2="256.7" stroke="#111" stroke-width="1.1"/>
<line x1="185.09" y1="252.5" x2="185.09" y2="254.7" stroke="#111" stroke-width="1.1"/>
<line x1="192.24" y1="252.5" x2="192.24" y2="254.7" stroke="#111" stroke-width="1.1"/>
<line x1="197.32" y1="252.5" x2="197.32" y2="254.7" stroke="#111" stroke-width="1.1"/>
<line x1="201.26" y1="252.5" x2="201.26" y2="254.7" stroke="#111" stroke-width="1.1"/>
<line x1="204.48" y1="252.5" x2="204.48" y2="254.7" stroke="#111" stroke-width="1.1"/>
<line x1="207.20" y1="252.5" x2="207.20" y2="254.7" stroke="#111" stroke-width="1.1"/>
<line x1="209.56" y1="252.5" x2="209.56" y2="254.7" stroke="#111" stroke-width="1.1"/>
<line x1="211.64" y1="252.5" x2="211.64" y2="254.7" stroke="#111" stroke-width="1.1"/>
<line x1="213.50" y1="252.5" x2="213.50" y2="256.7" stroke="#111" stroke-width="1.1"/>
<text transform="translate(51.20,270.60) scale(0.97,1.08)" font-family="Liberation Sans, sans-serif" font-weight="bold" font-size="13.6" fill="#111" text-anchor="middle">10<tspan dy="-5.4" font-size="9">-3</tspan></text>
<text transform="translate(91.85,270.60) scale(0.97,1.08)" font-family="Liberation Sans, sans-serif" font-weight="bold" font-size="13.6" fill="#111" text-anchor="middle">10<tspan dy="-5.4" font-size="9">-2</tspan></text>
<text transform="translate(132.50,270.60) scale(0.97,1.08)" font-family="Liberation Sans, sans-serif" font-weight="bold" font-size="13.6" fill="#111" text-anchor="middle">10<tspan dy="-5.4" font-size="9">-1</tspan></text>
<text transform="translate(173.15,270.60) scale(0.97,1.08)" font-family="Liberation Sans, sans-serif" font-weight="bold" font-size="13.6" fill="#111" text-anchor="middle">10<tspan dy="-5.4" font-size="9">0</tspan></text>
<text transform="translate(213.80,270.60) scale(0.97,1.08)" font-family="Liberation Sans, sans-serif" font-weight="bold" font-size="13.6" fill="#111" text-anchor="middle">10<tspan dy="-5.4" font-size="9">1</tspan></text>
<text transform="translate(30.299999999999997,194.9) rotate(-90) scale(0.99,1.1)" font-family="Liberation Sans, sans-serif" font-weight="bold" font-size="15.3" fill="#111" text-anchor="middle">OD 492</text>
<path d="M79.31,249.51 L91.55,249.23 L103.79,247.74 L116.02,246.38 L128.26,242.70 L140.50,234.53 L152.73,225.82 L164.97,204.05 L177.21,169.48 L189.44,143.62 L201.68,143.62 L213.92,143.62" fill="none" stroke="#111" stroke-width="1.9"/>
<circle cx="79.31" cy="249.51" r="3.2" fill="#111"/>
<path d="M75.21,249.51 H83.41 M79.31,245.61 V253.41" stroke="#111" stroke-width="1.0"/>
<circle cx="91.55" cy="249.23" r="3.2" fill="#111"/>
<path d="M87.45,249.23 H95.65 M91.55,245.33 V253.13" stroke="#111" stroke-width="1.0"/>
<circle cx="103.79" cy="247.74" r="3.2" fill="#111"/>
<path d="M99.69,247.74 H107.89 M103.79,243.84 V251.64" stroke="#111" stroke-width="1.0"/>
<circle cx="116.02" cy="246.38" r="3.2" fill="#111"/>
<path d="M111.92,246.38 H120.12 M116.02,242.48 V250.28" stroke="#111" stroke-width="1.0"/>
<circle cx="128.26" cy="242.70" r="3.2" fill="#111"/>
<path d="M124.16,242.70 H132.36 M128.26,238.80 V246.60" stroke="#111" stroke-width="1.0"/>
<circle cx="140.50" cy="234.53" r="3.2" fill="#111"/>
<path d="M136.40,234.53 H144.60 M140.50,230.63 V238.43" stroke="#111" stroke-width="1.0"/>
<circle cx="152.73" cy="225.82" r="3.2" fill="#111"/>
<path d="M148.63,225.82 H156.83 M152.73,221.92 V229.72" stroke="#111" stroke-width="1.0"/>
<circle cx="164.97" cy="204.05" r="3.2" fill="#111"/>
<path d="M160.87,204.05 H169.07 M164.97,200.15 V207.95" stroke="#111" stroke-width="1.0"/>
<circle cx="177.21" cy="169.48" r="3.2" fill="#111"/>
<path d="M173.11,169.48 H181.31 M177.21,165.58 V173.38" stroke="#111" stroke-width="1.0"/>
<circle cx="189.44" cy="143.62" r="3.2" fill="#111"/>
<path d="M185.34,143.62 H193.54 M189.44,139.72 V147.52" stroke="#111" stroke-width="1.0"/>
<circle cx="201.68" cy="143.62" r="3.2" fill="#111"/>
<path d="M197.58,143.62 H205.78 M201.68,139.72 V147.52" stroke="#111" stroke-width="1.0"/>
<circle cx="213.92" cy="143.62" r="3.2" fill="#111"/>
<path d="M209.82,143.62 H218.02 M213.92,139.72 V147.52" stroke="#111" stroke-width="1.0"/>
<line x1="96.6" y1="143.40" x2="96.6" y2="200.4" stroke="#222" stroke-width="0.8"/>
<line x1="96.19999999999999" y1="200.0" x2="153.66" y2="200.0" stroke="#222" stroke-width="0.8"/>
<line x1="94.6" y1="200.00" x2="96.6" y2="200.00" stroke="#222" stroke-width="0.7"/>
<text x="94.0" y="202.70" font-family="Liberation Sans, sans-serif" font-weight="bold" font-size="7.4" fill="#222" text-anchor="end">0.0</text>
<line x1="94.6" y1="185.95" x2="96.6" y2="185.95" stroke="#222" stroke-width="0.7"/>
<text x="94.0" y="188.65" font-family="Liberation Sans, sans-serif" font-weight="bold" font-size="7.4" fill="#222" text-anchor="end">0.5</text>
<line x1="94.6" y1="171.90" x2="96.6" y2="171.90" stroke="#222" stroke-width="0.7"/>
<text x="94.0" y="174.60" font-family="Liberation Sans, sans-serif" font-weight="bold" font-size="7.4" fill="#222" text-anchor="end">1.0</text>
<line x1="94.6" y1="157.85" x2="96.6" y2="157.85" stroke="#222" stroke-width="0.7"/>
<text x="94.0" y="160.55" font-family="Liberation Sans, sans-serif" font-weight="bold" font-size="7.4" fill="#222" text-anchor="end">1.5</text>
<line x1="94.6" y1="143.80" x2="96.6" y2="143.80" stroke="#222" stroke-width="0.7"/>
<text x="94.0" y="146.50" font-family="Liberation Sans, sans-serif" font-weight="bold" font-size="7.4" fill="#222" text-anchor="end">2.0</text>
<line x1="96.60" y1="200.0" x2="96.60" y2="202.2" stroke="#222" stroke-width="0.6"/>
<line x1="104.04" y1="200.0" x2="104.04" y2="201.2" stroke="#222" stroke-width="0.6"/>
<line x1="108.38" y1="200.0" x2="108.38" y2="201.2" stroke="#222" stroke-width="0.6"/>
<line x1="111.47" y1="200.0" x2="111.47" y2="201.2" stroke="#222" stroke-width="0.6"/>
<line x1="113.86" y1="200.0" x2="113.86" y2="201.2" stroke="#222" stroke-width="0.6"/>
<line x1="115.82" y1="200.0" x2="115.82" y2="201.2" stroke="#222" stroke-width="0.6"/>
<line x1="117.47" y1="200.0" x2="117.47" y2="201.2" stroke="#222" stroke-width="0.6"/>
<line x1="118.91" y1="200.0" x2="118.91" y2="201.2" stroke="#222" stroke-width="0.6"/>
<line x1="120.17" y1="200.0" x2="120.17" y2="201.2" stroke="#222" stroke-width="0.6"/>
<line x1="121.30" y1="200.0" x2="121.30" y2="202.2" stroke="#222" stroke-width="0.6"/>
<line x1="128.74" y1="200.0" x2="128.74" y2="201.2" stroke="#222" stroke-width="0.6"/>
<line x1="133.08" y1="200.0" x2="133.08" y2="201.2" stroke="#222" stroke-width="0.6"/>
<line x1="136.17" y1="200.0" x2="136.17" y2="201.2" stroke="#222" stroke-width="0.6"/>
<line x1="138.56" y1="200.0" x2="138.56" y2="201.2" stroke="#222" stroke-width="0.6"/>
<line x1="140.52" y1="200.0" x2="140.52" y2="201.2" stroke="#222" stroke-width="0.6"/>
<line x1="142.17" y1="200.0" x2="142.17" y2="201.2" stroke="#222" stroke-width="0.6"/>
<line x1="143.61" y1="200.0" x2="143.61" y2="201.2" stroke="#222" stroke-width="0.6"/>
<line x1="144.87" y1="200.0" x2="144.87" y2="201.2" stroke="#222" stroke-width="0.6"/>
<line x1="146.00" y1="200.0" x2="146.00" y2="202.2" stroke="#222" stroke-width="0.6"/>
<line x1="153.44" y1="200.0" x2="153.44" y2="201.2" stroke="#222" stroke-width="0.6"/>
<text x="97.40" y="210.20" font-family="Liberation Sans, sans-serif" font-weight="bold" font-size="7.4" fill="#222" text-anchor="middle">10<tspan dy="-3" font-size="5">3</tspan></text>
<text x="122.10" y="210.20" font-family="Liberation Sans, sans-serif" font-weight="bold" font-size="7.4" fill="#222" text-anchor="middle">10<tspan dy="-3" font-size="5">2</tspan></text>
<text x="146.80" y="210.20" font-family="Liberation Sans, sans-serif" font-weight="bold" font-size="7.4" fill="#222" text-anchor="middle">10<tspan dy="-3" font-size="5">1</tspan></text>
<text x="125.25" y="218.60" font-family="Liberation Sans, sans-serif" font-weight="bold" font-size="7.05" fill="#222" text-anchor="middle">mAb [ng/well]</text>
<text transform="translate(80.20,169.90) rotate(-90)" font-family="Liberation Sans, sans-serif" font-weight="bold" font-size="8.1" fill="#222" text-anchor="middle">OD 492</text>
<line x1="126.20" y1="171.62" x2="126.20" y2="174.99" stroke="#222" stroke-width="0.8"/>
<line x1="124.20" y1="171.62" x2="128.20" y2="171.62" stroke="#222" stroke-width="0.8"/>
<line x1="124.20" y1="174.99" x2="128.20" y2="174.99" stroke="#222" stroke-width="0.8"/>
<line x1="141.07" y1="152.23" x2="141.07" y2="158.41" stroke="#222" stroke-width="0.8"/>
<line x1="139.07" y1="152.23" x2="143.07" y2="152.23" stroke="#222" stroke-width="0.8"/>
<line x1="139.07" y1="158.41" x2="143.07" y2="158.41" stroke="#222" stroke-width="0.8"/>
<path d="M103.90,189.60 L111.33,187.35 L118.77,181.45 L126.20,173.31 L133.64,162.06 L141.07,155.32" fill="none" stroke="#222" stroke-width="1"/>
<circle cx="103.90" cy="189.60" r="1.9" fill="#111"/>
<circle cx="111.33" cy="187.35" r="1.9" fill="#111"/>
<circle cx="118.77" cy="181.45" r="1.9" fill="#111"/>
<circle cx="126.20" cy="173.31" r="1.9" fill="#111"/>
<circle cx="133.64" cy="162.06" r="1.9" fill="#111"/>
<circle cx="141.07" cy="155.32" r="1.9" fill="#111"/>
<text x="0.8" y="291.6" font-family="Liberation Sans, sans-serif" font-weight="bold" font-size="15.6" fill="#111">D.</text>
<line x1="50.5" y1="299.3" x2="50.5" y2="409.70000000000005" stroke="#111" stroke-width="1.4"/>
<line x1="49.9" y1="409.1" x2="215.1" y2="409.1" stroke="#111" stroke-width="1.4"/>
<line x1="45.9" y1="409.10" x2="50.5" y2="409.10" stroke="#111" stroke-width="1.3"/>
<text transform="translate(44.90,413.85) scale(0.93,1.09)" font-family="Liberation Sans, sans-serif" font-weight="bold" font-size="12.8" fill="#111" text-anchor="end">0</text>
<line x1="45.9" y1="381.80" x2="50.5" y2="381.80" stroke="#111" stroke-width="1.3"/>
<text transform="translate(44.90,386.55) scale(0.93,1.09)" font-family="Liberation Sans, sans-serif" font-weight="bold" font-size="12.8" fill="#111" text-anchor="end">1</text>
<line x1="45.9" y1="354.50" x2="50.5" y2="354.50" stroke="#111" stroke-width="1.3"/>
<text transform="translate(44.90,359.25) scale(0.93,1.09)" font-family="Liberation Sans, sans-serif" font-weight="bold" font-size="12.8" fill="#111" text-anchor="end">2</text>
<line x1="45.9" y1="327.20" x2="50.5" y2="327.20" stroke="#111" stroke-width="1.3"/>
<text transform="translate(44.90,331.95) scale(0.93,1.09)" font-family="Liberation Sans, sans-serif" font-weight="bold" font-size="12.8" fill="#111" text-anchor="end">3</text>
<line x1="45.9" y1="299.90" x2="50.5" y2="299.90" stroke="#111" stroke-width="1.3"/>
<text transform="translate(44.90,304.65) scale(0.93,1.09)" font-family="Liberation Sans, sans-serif" font-weight="bold" font-size="12.8" fill="#111" text-anchor="end">4</text>
<line x1="50.50" y1="409.1" x2="50.50" y2="413.3" stroke="#111" stroke-width="1.1"/>
<line x1="62.84" y1="409.1" x2="62.84" y2="411.3" stroke="#111" stroke-width="1.1"/>
<line x1="70.06" y1="409.1" x2="70.06" y2="411.3" stroke="#111" stroke-width="1.1"/>
<line x1="75.18" y1="409.1" x2="75.18" y2="411.3" stroke="#111" stroke-width="1.1"/>
<line x1="79.16" y1="409.1" x2="79.16" y2="411.3" stroke="#111" stroke-width="1.1"/>
<line x1="82.40" y1="409.1" x2="82.40" y2="411.3" stroke="#111" stroke-width="1.1"/>
<line x1="85.15" y1="409.1" x2="85.15" y2="411.3" stroke="#111" stroke-width="1.1"/>
<line x1="87.53" y1="409.1" x2="87.53" y2="411.3" stroke="#111" stroke-width="1.1"/>
<line x1="89.62" y1="409.1" x2="89.62" y2="411.3" stroke="#111" stroke-width="1.1"/>
<line x1="91.50" y1="409.1" x2="91.50" y2="413.3" stroke="#111" stroke-width="1.1"/>
<line x1="103.84" y1="409.1" x2="103.84" y2="411.3" stroke="#111" stroke-width="1.1"/>
<line x1="111.06" y1="409.1" x2="111.06" y2="411.3" stroke="#111" stroke-width="1.1"/>
<line x1="116.18" y1="409.1" x2="116.18" y2="411.3" stroke="#111" stroke-width="1.1"/>
<line x1="120.16" y1="409.1" x2="120.16" y2="411.3" stroke="#111" stroke-width="1.1"/>
<line x1="123.40" y1="409.1" x2="123.40" y2="411.3" stroke="#111" stroke-width="1.1"/>
<line x1="126.15" y1="409.1" x2="126.15" y2="411.3" stroke="#111" stroke-width="1.1"/>
<line x1="128.53" y1="409.1" x2="128.53" y2="411.3" stroke="#111" stroke-width="1.1"/>
<line x1="130.62" y1="409.1" x2="130.62" y2="411.3" stroke="#111" stroke-width="1.1"/>
<line x1="132.50" y1="409.1" x2="132.50" y2="413.3" stroke="#111" stroke-width="1.1"/>
<line x1="144.84" y1="409.1" x2="144.84" y2="411.3" stroke="#111" stroke-width="1.1"/>
<line x1="152.06" y1="409.1" x2="152.06" y2="411.3" stroke="#111" stroke-width="1.1"/>
<line x1="157.18" y1="409.1" x2="157.18" y2="411.3" stroke="#111" stroke-width="1.1"/>
<line x1="161.16" y1="409.1" x2="161.16" y2="411.3" stroke="#111" stroke-width="1.1"/>
<line x1="164.40" y1="409.1" x2="164.40" y2="411.3" stroke="#111" stroke-width="1.1"/>
<line x1="167.15" y1="409.1" x2="167.15" y2="411.3" stroke="#111" stroke-width="1.1"/>
<line x1="169.53" y1="409.1" x2="169.53" y2="411.3" stroke="#111" stroke-width="1.1"/>
<line x1="171.62" y1="409.1" x2="171.62" y2="411.3" stroke="#111" stroke-width="1.1"/>
<line x1="173.50" y1="409.1" x2="173.50" y2="413.3" stroke="#111" stroke-width="1.1"/>
<line x1="185.84" y1="409.1" x2="185.84" y2="411.3" stroke="#111" stroke-width="1.1"/>
<line x1="193.06" y1="409.1" x2="193.06" y2="411.3" stroke="#111" stroke-width="1.1"/>
<line x1="198.18" y1="409.1" x2="198.18" y2="411.3" stroke="#111" stroke-width="1.1"/>
<line x1="202.16" y1="409.1" x2="202.16" y2="411.3" stroke="#111" stroke-width="1.1"/>
<line x1="205.40" y1="409.1" x2="205.40" y2="411.3" stroke="#111" stroke-width="1.1"/>
<line x1="208.15" y1="409.1" x2="208.15" y2="411.3" stroke="#111" stroke-width="1.1"/>
<line x1="210.53" y1="409.1" x2="210.53" y2="411.3" stroke="#111" stroke-width="1.1"/>
<line x1="212.62" y1="409.1" x2="212.62" y2="411.3" stroke="#111" stroke-width="1.1"/>
<line x1="214.50" y1="409.1" x2="214.50" y2="413.3" stroke="#111" stroke-width="1.1"/>
<text transform="translate(50.80,428.50) scale(0.97,1.08)" font-family="Liberation Sans, sans-serif" font-weight="bold" font-size="13.6" fill="#111" text-anchor="middle">10<tspan dy="-5.4" font-size="9">-3</tspan></text>
<text transform="translate(91.80,428.50) scale(0.97,1.08)" font-family="Liberation Sans, sans-serif" font-weight="bold" font-size="13.6" fill="#111" text-anchor="middle">10<tspan dy="-5.4" font-size="9">-2</tspan></text>
<text transform="translate(132.80,428.50) scale(0.97,1.08)" font-family="Liberation Sans, sans-serif" font-weight="bold" font-size="13.6" fill="#111" text-anchor="middle">10<tspan dy="-5.4" font-size="9">-1</tspan></text>
<text transform="translate(173.80,428.50) scale(0.97,1.08)" font-family="Liberation Sans, sans-serif" font-weight="bold" font-size="13.6" fill="#111" text-anchor="middle">10<tspan dy="-5.4" font-size="9">0</tspan></text>
<text transform="translate(214.80,428.50) scale(0.97,1.08)" font-family="Liberation Sans, sans-serif" font-weight="bold" font-size="13.6" fill="#111" text-anchor="middle">10<tspan dy="-5.4" font-size="9">1</tspan></text>
<text transform="translate(29.9,351.5) rotate(-90) scale(0.99,1.1)" font-family="Liberation Sans, sans-serif" font-weight="bold" font-size="15.3" fill="#111" text-anchor="middle">OD 492</text>
<path d="M79.16,401.46 L91.50,399.27 L103.84,390.54 L116.18,377.16 L128.53,346.58 L140.87,312.73 L153.21,300.45 L165.55,300.45 L177.90,300.45 L190.24,300.45 L202.58,300.45 L214.92,300.45" fill="none" stroke="#111" stroke-width="1.9" stroke-dasharray="5.5 2.6"/>
<rect x="76.06" y="398.36" width="6.2" height="6.2" fill="#111"/>
<rect x="88.40" y="396.17" width="6.2" height="6.2" fill="#111"/>
<rect x="100.74" y="387.44" width="6.2" height="6.2" fill="#111"/>
<rect x="113.08" y="374.06" width="6.2" height="6.2" fill="#111"/>
<rect x="125.43" y="343.48" width="6.2" height="6.2" fill="#111"/>
<rect x="137.77" y="309.63" width="6.2" height="6.2" fill="#111"/>
<rect x="150.11" y="297.35" width="6.2" height="6.2" fill="#111"/>
<rect x="162.45" y="297.35" width="6.2" height="6.2" fill="#111"/>
<rect x="174.80" y="297.35" width="6.2" height="6.2" fill="#111"/>
<rect x="187.14" y="297.35" width="6.2" height="6.2" fill="#111"/>
<rect x="199.48" y="297.35" width="6.2" height="6.2" fill="#111"/>
<rect x="211.82" y="297.35" width="6.2" height="6.2" fill="#111"/>
<path d="M124.73,342.58 H132.33 M124.73,350.58 H132.33" stroke="#111" stroke-width="1.3"/>
<line x1="159.9" y1="321.80" x2="159.9" y2="380.59999999999997" stroke="#222" stroke-width="0.8"/>
<line x1="159.5" y1="380.2" x2="218.57" y2="380.2" stroke="#222" stroke-width="0.8"/>
<line x1="157.9" y1="380.20" x2="159.9" y2="380.20" stroke="#222" stroke-width="0.7"/>
<text x="157.3" y="382.90" font-family="Liberation Sans, sans-serif" font-weight="bold" font-size="7.4" fill="#222" text-anchor="end">0.0</text>
<line x1="157.9" y1="365.70" x2="159.9" y2="365.70" stroke="#222" stroke-width="0.7"/>
<text x="157.3" y="368.40" font-family="Liberation Sans, sans-serif" font-weight="bold" font-size="7.4" fill="#222" text-anchor="end">0.5</text>
<line x1="157.9" y1="351.20" x2="159.9" y2="351.20" stroke="#222" stroke-width="0.7"/>
<text x="157.3" y="353.90" font-family="Liberation Sans, sans-serif" font-weight="bold" font-size="7.4" fill="#222" text-anchor="end">1.0</text>
<line x1="157.9" y1="336.70" x2="159.9" y2="336.70" stroke="#222" stroke-width="0.7"/>
<text x="157.3" y="339.40" font-family="Liberation Sans, sans-serif" font-weight="bold" font-size="7.4" fill="#222" text-anchor="end">1.5</text>
<line x1="157.9" y1="322.20" x2="159.9" y2="322.20" stroke="#222" stroke-width="0.7"/>
<text x="157.3" y="324.90" font-family="Liberation Sans, sans-serif" font-weight="bold" font-size="7.4" fill="#222" text-anchor="end">2.0</text>
<line x1="159.90" y1="380.2" x2="159.90" y2="382.4" stroke="#222" stroke-width="0.6"/>
<line x1="167.55" y1="380.2" x2="167.55" y2="381.4" stroke="#222" stroke-width="0.6"/>
<line x1="172.02" y1="380.2" x2="172.02" y2="381.4" stroke="#222" stroke-width="0.6"/>
<line x1="175.19" y1="380.2" x2="175.19" y2="381.4" stroke="#222" stroke-width="0.6"/>
<line x1="177.65" y1="380.2" x2="177.65" y2="381.4" stroke="#222" stroke-width="0.6"/>
<line x1="179.67" y1="380.2" x2="179.67" y2="381.4" stroke="#222" stroke-width="0.6"/>
<line x1="181.37" y1="380.2" x2="181.37" y2="381.4" stroke="#222" stroke-width="0.6"/>
<line x1="182.84" y1="380.2" x2="182.84" y2="381.4" stroke="#222" stroke-width="0.6"/>
<line x1="184.14" y1="380.2" x2="184.14" y2="381.4" stroke="#222" stroke-width="0.6"/>
<line x1="185.30" y1="380.2" x2="185.30" y2="382.4" stroke="#222" stroke-width="0.6"/>
<line x1="192.95" y1="380.2" x2="192.95" y2="381.4" stroke="#222" stroke-width="0.6"/>
<line x1="197.42" y1="380.2" x2="197.42" y2="381.4" stroke="#222" stroke-width="0.6"/>
<line x1="200.59" y1="380.2" x2="200.59" y2="381.4" stroke="#222" stroke-width="0.6"/>
<line x1="203.05" y1="380.2" x2="203.05" y2="381.4" stroke="#222" stroke-width="0.6"/>
<line x1="205.07" y1="380.2" x2="205.07" y2="381.4" stroke="#222" stroke-width="0.6"/>
<line x1="206.77" y1="380.2" x2="206.77" y2="381.4" stroke="#222" stroke-width="0.6"/>
<line x1="208.24" y1="380.2" x2="208.24" y2="381.4" stroke="#222" stroke-width="0.6"/>
<line x1="209.54" y1="380.2" x2="209.54" y2="381.4" stroke="#222" stroke-width="0.6"/>
<line x1="210.70" y1="380.2" x2="210.70" y2="382.4" stroke="#222" stroke-width="0.6"/>
<line x1="218.35" y1="380.2" x2="218.35" y2="381.4" stroke="#222" stroke-width="0.6"/>
<text x="160.70" y="390.40" font-family="Liberation Sans, sans-serif" font-weight="bold" font-size="7.4" fill="#222" text-anchor="middle">10<tspan dy="-3" font-size="5">3</tspan></text>
<text x="186.10" y="390.40" font-family="Liberation Sans, sans-serif" font-weight="bold" font-size="7.4" fill="#222" text-anchor="middle">10<tspan dy="-3" font-size="5">2</tspan></text>
<text x="211.50" y="390.40" font-family="Liberation Sans, sans-serif" font-weight="bold" font-size="7.4" fill="#222" text-anchor="middle">10<tspan dy="-3" font-size="5">1</tspan></text>
<text x="189.36" y="398.80" font-family="Liberation Sans, sans-serif" font-weight="bold" font-size="7.05" fill="#222" text-anchor="middle">mAb [ng/well]</text>
<text transform="translate(142.70,349.20) rotate(-90)" font-family="Liberation Sans, sans-serif" font-weight="bold" font-size="8.1" fill="#222" text-anchor="middle">OD 492</text>
<line x1="190.59" y1="350.91" x2="190.59" y2="354.39" stroke="#222" stroke-width="0.8"/>
<line x1="188.59" y1="350.91" x2="192.59" y2="350.91" stroke="#222" stroke-width="0.8"/>
<line x1="188.59" y1="354.39" x2="192.59" y2="354.39" stroke="#222" stroke-width="0.8"/>
<line x1="205.88" y1="330.90" x2="205.88" y2="337.28" stroke="#222" stroke-width="0.8"/>
<line x1="203.88" y1="330.90" x2="207.88" y2="330.90" stroke="#222" stroke-width="0.8"/>
<line x1="203.88" y1="337.28" x2="207.88" y2="337.28" stroke="#222" stroke-width="0.8"/>
<path d="M167.65,369.47 L175.30,367.15 L182.94,361.06 L190.59,352.65 L198.23,341.05 L205.88,334.09" fill="none" stroke="#222" stroke-width="1"/>
<circle cx="167.65" cy="369.47" r="1.9" fill="#111"/>
<circle cx="175.30" cy="367.15" r="1.9" fill="#111"/>
<circle cx="182.94" cy="361.06" r="1.9" fill="#111"/>
<circle cx="190.59" cy="352.65" r="1.9" fill="#111"/>
<circle cx="198.23" cy="341.05" r="1.9" fill="#111"/>
<circle cx="205.88" cy="334.09" r="1.9" fill="#111"/>
<text transform="translate(132.7,444.6) scale(0.94,1.05)" font-family="Liberation Sans, sans-serif" font-weight="bold" font-size="14" fill="#111" text-anchor="middle">Dilution</text>
<defs><pattern id="hatch" patternUnits="userSpaceOnUse" width="2.6" height="2.6" patternTransform="rotate(-45)"><rect width="2.6" height="2.6" fill="#0a2418"/><rect width="0.85" height="2.6" fill="#259060"/></pattern></defs>
<text x="243.6" y="126.6" font-family="Liberation Sans, sans-serif" font-weight="bold" font-size="15.6" fill="#111">C.</text>
<text x="239.6" y="291.7" font-family="Liberation Sans, sans-serif" font-weight="bold" font-size="15.6" fill="#111">E.</text>
<line x1="283.6" y1="135.05" x2="283.6" y2="254.7" stroke="#111" stroke-width="1.7"/>
<line x1="282.8" y1="254.0" x2="363.1" y2="254.0" stroke="#111" stroke-width="1.7"/>
<line x1="279.0" y1="254.00" x2="283.6" y2="254.00" stroke="#111" stroke-width="1.5"/>
<text x="278.0" y="258.55" font-family="Liberation Sans, sans-serif" font-weight="bold" font-size="12.7" fill="#111" text-anchor="end">0.0</text>
<line x1="279.0" y1="230.35" x2="283.6" y2="230.35" stroke="#111" stroke-width="1.5"/>
<text x="278.0" y="234.90" font-family="Liberation Sans, sans-serif" font-weight="bold" font-size="12.7" fill="#111" text-anchor="end">0.5</text>
<line x1="279.0" y1="206.70" x2="283.6" y2="206.70" stroke="#111" stroke-width="1.5"/>
<text x="278.0" y="211.25" font-family="Liberation Sans, sans-serif" font-weight="bold" font-size="12.7" fill="#111" text-anchor="end">1.0</text>
<line x1="279.0" y1="183.05" x2="283.6" y2="183.05" stroke="#111" stroke-width="1.5"/>
<text x="278.0" y="187.60" font-family="Liberation Sans, sans-serif" font-weight="bold" font-size="12.7" fill="#111" text-anchor="end">1.5</text>
<line x1="279.0" y1="159.40" x2="283.6" y2="159.40" stroke="#111" stroke-width="1.5"/>
<text x="278.0" y="163.95" font-family="Liberation Sans, sans-serif" font-weight="bold" font-size="12.7" fill="#111" text-anchor="end">2.0</text>
<line x1="279.0" y1="135.75" x2="283.6" y2="135.75" stroke="#111" stroke-width="1.5"/>
<text x="278.0" y="140.30" font-family="Liberation Sans, sans-serif" font-weight="bold" font-size="12.7" fill="#111" text-anchor="end">2.5</text>
<text transform="translate(256.30,192.38) rotate(-90)" font-family="Liberation Sans, sans-serif" font-weight="bold" font-size="12.7" fill="#111" text-anchor="middle">OD492</text>
<line x1="290.80" y1="220.89" x2="290.80" y2="222.78" stroke="#111" stroke-width="1.3"/>
<line x1="288.20" y1="220.89" x2="293.40" y2="220.89" stroke="#111" stroke-width="1.3"/>
<rect x="287.00" y="222.78" width="7.60" height="31.22" fill="#fd2414"/>
<line x1="290.80" y1="254.0" x2="290.80" y2="258.8" stroke="#111" stroke-width="1.4"/>
<line x1="302.20" y1="212.38" x2="302.20" y2="213.61" stroke="#111" stroke-width="1.3"/>
<line x1="299.60" y1="212.38" x2="304.80" y2="212.38" stroke="#111" stroke-width="1.3"/>
<rect x="298.40" y="213.61" width="7.60" height="40.39" fill="#fd2414"/>
<line x1="302.20" y1="254.0" x2="302.20" y2="258.8" stroke="#111" stroke-width="1.4"/>
<line x1="313.60" y1="163.66" x2="313.60" y2="166.02" stroke="#111" stroke-width="1.3"/>
<line x1="311.00" y1="163.66" x2="316.20" y2="163.66" stroke="#111" stroke-width="1.3"/>
<rect x="309.80" y="166.02" width="7.60" height="87.98" fill="#fd2414"/>
<line x1="313.60" y1="254.0" x2="313.60" y2="258.8" stroke="#111" stroke-width="1.4"/>
<line x1="325.00" y1="190.15" x2="325.00" y2="192.51" stroke="#111" stroke-width="1.3"/>
<line x1="322.40" y1="190.15" x2="327.60" y2="190.15" stroke="#111" stroke-width="1.3"/>
<rect x="321.20" y="192.51" width="7.60" height="61.49" fill="#fd2414"/>
<line x1="325.00" y1="254.0" x2="325.00" y2="258.8" stroke="#111" stroke-width="1.4"/>
<line x1="344.10" y1="174.77" x2="344.10" y2="177.61" stroke="#111" stroke-width="1.3"/>
<line x1="341.50" y1="174.77" x2="346.70" y2="174.77" stroke="#111" stroke-width="1.3"/>
<rect x="340.45" y="178.41" width="7.30" height="75.59" fill="#fff" stroke="#111" stroke-width="1.6"/>
<line x1="344.10" y1="254.0" x2="344.10" y2="258.8" stroke="#111" stroke-width="1.4"/>
<line x1="355.50" y1="171.70" x2="355.50" y2="174.77" stroke="#111" stroke-width="1.3"/>
<line x1="352.90" y1="171.70" x2="358.10" y2="171.70" stroke="#111" stroke-width="1.3"/>
<rect x="351.70" y="174.77" width="7.60" height="79.23" fill="#111"/>
<line x1="355.50" y1="254.0" x2="355.50" y2="258.8" stroke="#111" stroke-width="1.4"/>
<line x1="409.9" y1="135.05" x2="409.9" y2="254.7" stroke="#111" stroke-width="1.7"/>
<line x1="409.09999999999997" y1="254.0" x2="489.4" y2="254.0" stroke="#111" stroke-width="1.7"/>
<line x1="405.29999999999995" y1="254.00" x2="409.9" y2="254.00" stroke="#111" stroke-width="1.5"/>
<text x="404.29999999999995" y="258.55" font-family="Liberation Sans, sans-serif" font-weight="bold" font-size="12.7" fill="#111" text-anchor="end">0.0</text>
<line x1="405.29999999999995" y1="230.35" x2="409.9" y2="230.35" stroke="#111" stroke-width="1.5"/>
<text x="404.29999999999995" y="234.90" font-family="Liberation Sans, sans-serif" font-weight="bold" font-size="12.7" fill="#111" text-anchor="end">0.5</text>
<line x1="405.29999999999995" y1="206.70" x2="409.9" y2="206.70" stroke="#111" stroke-width="1.5"/>
<text x="404.29999999999995" y="211.25" font-family="Liberation Sans, sans-serif" font-weight="bold" font-size="12.7" fill="#111" text-anchor="end">1.0</text>
<line x1="405.29999999999995" y1="183.05" x2="409.9" y2="183.05" stroke="#111" stroke-width="1.5"/>
<text x="404.29999999999995" y="187.60" font-family="Liberation Sans, sans-serif" font-weight="bold" font-size="12.7" fill="#111" text-anchor="end">1.5</text>
<line x1="405.29999999999995" y1="159.40" x2="409.9" y2="159.40" stroke="#111" stroke-width="1.5"/>
<text x="404.29999999999995" y="163.95" font-family="Liberation Sans, sans-serif" font-weight="bold" font-size="12.7" fill="#111" text-anchor="end">2.0</text>
<line x1="405.29999999999995" y1="135.75" x2="409.9" y2="135.75" stroke="#111" stroke-width="1.5"/>
<text x="404.29999999999995" y="140.30" font-family="Liberation Sans, sans-serif" font-weight="bold" font-size="12.7" fill="#111" text-anchor="end">2.5</text>
<text transform="translate(382.60,192.38) rotate(-90)" font-family="Liberation Sans, sans-serif" font-weight="bold" font-size="12.7" fill="#111" text-anchor="middle">OD492</text>
<line x1="417.10" y1="188.25" x2="417.10" y2="194.88" stroke="#111" stroke-width="1.3"/>
<line x1="414.50" y1="188.25" x2="419.70" y2="188.25" stroke="#111" stroke-width="1.3"/>
<rect x="413.30" y="194.88" width="7.60" height="59.12" fill="#f8972a"/>
<line x1="417.10" y1="254.0" x2="417.10" y2="258.8" stroke="#111" stroke-width="1.4"/>
<line x1="428.50" y1="236.97" x2="428.50" y2="243.12" stroke="#111" stroke-width="1.3"/>
<line x1="425.90" y1="236.97" x2="431.10" y2="236.97" stroke="#111" stroke-width="1.3"/>
<rect x="424.70" y="243.12" width="7.60" height="10.88" fill="#f8972a"/>
<line x1="428.50" y1="254.0" x2="428.50" y2="258.8" stroke="#111" stroke-width="1.4"/>
<line x1="439.90" y1="217.82" x2="439.90" y2="223.02" stroke="#111" stroke-width="1.3"/>
<line x1="437.30" y1="217.82" x2="442.50" y2="217.82" stroke="#111" stroke-width="1.3"/>
<rect x="436.10" y="223.02" width="7.60" height="30.98" fill="#f8972a"/>
<line x1="439.90" y1="254.0" x2="439.90" y2="258.8" stroke="#111" stroke-width="1.4"/>
<line x1="451.30" y1="228.93" x2="451.30" y2="232.24" stroke="#111" stroke-width="1.3"/>
<line x1="448.70" y1="228.93" x2="453.90" y2="228.93" stroke="#111" stroke-width="1.3"/>
<rect x="447.50" y="232.24" width="7.60" height="21.76" fill="#f8972a"/>
<line x1="451.30" y1="254.0" x2="451.30" y2="258.8" stroke="#111" stroke-width="1.4"/>
<line x1="470.40" y1="160.58" x2="470.40" y2="173.59" stroke="#111" stroke-width="1.3"/>
<line x1="467.80" y1="160.58" x2="473.00" y2="160.58" stroke="#111" stroke-width="1.3"/>
<rect x="466.75" y="174.39" width="7.30" height="79.61" fill="#fff" stroke="#111" stroke-width="1.6"/>
<line x1="470.40" y1="254.0" x2="470.40" y2="258.8" stroke="#111" stroke-width="1.4"/>
<line x1="481.80" y1="165.31" x2="481.80" y2="170.52" stroke="#111" stroke-width="1.3"/>
<line x1="479.20" y1="165.31" x2="484.40" y2="165.31" stroke="#111" stroke-width="1.3"/>
<rect x="478.00" y="170.52" width="7.60" height="83.48" fill="#111"/>
<line x1="481.80" y1="254.0" x2="481.80" y2="258.8" stroke="#111" stroke-width="1.4"/>
<line x1="536.0" y1="135.05" x2="536.0" y2="254.7" stroke="#111" stroke-width="1.7"/>
<line x1="535.2" y1="254.0" x2="615.5" y2="254.0" stroke="#111" stroke-width="1.7"/>
<line x1="531.4" y1="254.00" x2="536.0" y2="254.00" stroke="#111" stroke-width="1.5"/>
<text x="530.4" y="258.55" font-family="Liberation Sans, sans-serif" font-weight="bold" font-size="12.7" fill="#111" text-anchor="end">0.0</text>
<line x1="531.4" y1="230.35" x2="536.0" y2="230.35" stroke="#111" stroke-width="1.5"/>
<text x="530.4" y="234.90" font-family="Liberation Sans, sans-serif" font-weight="bold" font-size="12.7" fill="#111" text-anchor="end">0.5</text>
<line x1="531.4" y1="206.70" x2="536.0" y2="206.70" stroke="#111" stroke-width="1.5"/>
<text x="530.4" y="211.25" font-family="Liberation Sans, sans-serif" font-weight="bold" font-size="12.7" fill="#111" text-anchor="end">1.0</text>
<line x1="531.4" y1="183.05" x2="536.0" y2="183.05" stroke="#111" stroke-width="1.5"/>
<text x="530.4" y="187.60" font-family="Liberation Sans, sans-serif" font-weight="bold" font-size="12.7" fill="#111" text-anchor="end">1.5</text>
<line x1="531.4" y1="159.40" x2="536.0" y2="159.40" stroke="#111" stroke-width="1.5"/>
<text x="530.4" y="163.95" font-family="Liberation Sans, sans-serif" font-weight="bold" font-size="12.7" fill="#111" text-anchor="end">2.0</text>
<line x1="531.4" y1="135.75" x2="536.0" y2="135.75" stroke="#111" stroke-width="1.5"/>
<text x="530.4" y="140.30" font-family="Liberation Sans, sans-serif" font-weight="bold" font-size="12.7" fill="#111" text-anchor="end">2.5</text>
<text transform="translate(508.70,192.38) rotate(-90)" font-family="Liberation Sans, sans-serif" font-weight="bold" font-size="12.7" fill="#111" text-anchor="middle">OD492</text>
<line x1="543.20" y1="223.49" x2="543.20" y2="226.33" stroke="#111" stroke-width="1.3"/>
<line x1="540.60" y1="223.49" x2="545.80" y2="223.49" stroke="#111" stroke-width="1.3"/>
<rect x="539.40" y="226.33" width="7.60" height="27.67" fill="#17918f"/>
<line x1="543.20" y1="254.0" x2="543.20" y2="258.8" stroke="#111" stroke-width="1.4"/>
<line x1="554.60" y1="222.03" x2="554.60" y2="224.01" stroke="#111" stroke-width="1.3"/>
<line x1="552.00" y1="222.03" x2="557.20" y2="222.03" stroke="#111" stroke-width="1.3"/>
<rect x="550.80" y="224.01" width="7.60" height="29.99" fill="#17918f"/>
<line x1="554.60" y1="254.0" x2="554.60" y2="258.8" stroke="#111" stroke-width="1.4"/>
<line x1="566.00" y1="238.01" x2="566.00" y2="240.00" stroke="#111" stroke-width="1.3"/>
<line x1="563.40" y1="238.01" x2="568.60" y2="238.01" stroke="#111" stroke-width="1.3"/>
<rect x="562.20" y="240.00" width="7.60" height="14.00" fill="#17918f"/>
<line x1="566.00" y1="254.0" x2="566.00" y2="258.8" stroke="#111" stroke-width="1.4"/>
<line x1="577.40" y1="228.46" x2="577.40" y2="228.93" stroke="#111" stroke-width="1.3"/>
<line x1="574.80" y1="228.46" x2="580.00" y2="228.46" stroke="#111" stroke-width="1.3"/>
<rect x="573.60" y="228.93" width="7.60" height="25.07" fill="#17918f"/>
<line x1="577.40" y1="254.0" x2="577.40" y2="258.8" stroke="#111" stroke-width="1.4"/>
<line x1="596.50" y1="177.61" x2="596.50" y2="181.63" stroke="#111" stroke-width="1.3"/>
<line x1="593.90" y1="177.61" x2="599.10" y2="177.61" stroke="#111" stroke-width="1.3"/>
<rect x="592.85" y="182.43" width="7.30" height="71.57" fill="#fff" stroke="#111" stroke-width="1.6"/>
<line x1="596.50" y1="254.0" x2="596.50" y2="258.8" stroke="#111" stroke-width="1.4"/>
<line x1="607.90" y1="184.94" x2="607.90" y2="188.25" stroke="#111" stroke-width="1.3"/>
<line x1="605.30" y1="184.94" x2="610.50" y2="184.94" stroke="#111" stroke-width="1.3"/>
<rect x="604.10" y="188.25" width="7.60" height="65.75" fill="#111"/>
<line x1="607.90" y1="254.0" x2="607.90" y2="258.8" stroke="#111" stroke-width="1.4"/>
<line x1="663.0" y1="135.05" x2="663.0" y2="254.7" stroke="#111" stroke-width="1.7"/>
<line x1="662.2" y1="254.0" x2="742.5" y2="254.0" stroke="#111" stroke-width="1.7"/>
<line x1="658.4" y1="254.00" x2="663.0" y2="254.00" stroke="#111" stroke-width="1.5"/>
<text x="657.4" y="258.55" font-family="Liberation Sans, sans-serif" font-weight="bold" font-size="12.7" fill="#111" text-anchor="end">0.0</text>
<line x1="658.4" y1="230.35" x2="663.0" y2="230.35" stroke="#111" stroke-width="1.5"/>
<text x="657.4" y="234.90" font-family="Liberation Sans, sans-serif" font-weight="bold" font-size="12.7" fill="#111" text-anchor="end">0.5</text>
<line x1="658.4" y1="206.70" x2="663.0" y2="206.70" stroke="#111" stroke-width="1.5"/>
<text x="657.4" y="211.25" font-family="Liberation Sans, sans-serif" font-weight="bold" font-size="12.7" fill="#111" text-anchor="end">1.0</text>
<line x1="658.4" y1="183.05" x2="663.0" y2="183.05" stroke="#111" stroke-width="1.5"/>
<text x="657.4" y="187.60" font-family="Liberation Sans, sans-serif" font-weight="bold" font-size="12.7" fill="#111" text-anchor="end">1.5</text>
<line x1="658.4" y1="159.40" x2="663.0" y2="159.40" stroke="#111" stroke-width="1.5"/>
<text x="657.4" y="163.95" font-family="Liberation Sans, sans-serif" font-weight="bold" font-size="12.7" fill="#111" text-anchor="end">2.0</text>
<line x1="658.4" y1="135.75" x2="663.0" y2="135.75" stroke="#111" stroke-width="1.5"/>
<text x="657.4" y="140.30" font-family="Liberation Sans, sans-serif" font-weight="bold" font-size="12.7" fill="#111" text-anchor="end">2.5</text>
<text transform="translate(635.70,192.38) rotate(-90)" font-family="Liberation Sans, sans-serif" font-weight="bold" font-size="12.7" fill="#111" text-anchor="middle">OD492</text>
<line x1="670.20" y1="176.19" x2="670.20" y2="187.31" stroke="#111" stroke-width="1.3"/>
<line x1="667.60" y1="176.19" x2="672.80" y2="176.19" stroke="#111" stroke-width="1.3"/>
<rect x="666.40" y="187.31" width="7.60" height="66.69" fill="#1e3aff"/>
<line x1="670.20" y1="254.0" x2="670.20" y2="258.8" stroke="#111" stroke-width="1.4"/>
<line x1="681.60" y1="186.36" x2="681.60" y2="191.09" stroke="#111" stroke-width="1.3"/>
<line x1="679.00" y1="186.36" x2="684.20" y2="186.36" stroke="#111" stroke-width="1.3"/>
<rect x="677.80" y="191.09" width="7.60" height="62.91" fill="#1e3aff"/>
<line x1="681.60" y1="254.0" x2="681.60" y2="258.8" stroke="#111" stroke-width="1.4"/>
<line x1="693.00" y1="233.19" x2="693.00" y2="236.69" stroke="#111" stroke-width="1.3"/>
<line x1="690.40" y1="233.19" x2="695.60" y2="233.19" stroke="#111" stroke-width="1.3"/>
<rect x="689.20" y="236.69" width="7.60" height="17.31" fill="#1e3aff"/>
<line x1="693.00" y1="254.0" x2="693.00" y2="258.8" stroke="#111" stroke-width="1.4"/>
<line x1="704.40" y1="136.46" x2="704.40" y2="137.88" stroke="#111" stroke-width="1.3"/>
<line x1="701.80" y1="136.46" x2="707.00" y2="136.46" stroke="#111" stroke-width="1.3"/>
<rect x="700.60" y="137.88" width="7.60" height="116.12" fill="#1e3aff"/>
<line x1="704.40" y1="254.0" x2="704.40" y2="258.8" stroke="#111" stroke-width="1.4"/>
<line x1="723.50" y1="165.55" x2="723.50" y2="171.41" stroke="#111" stroke-width="1.3"/>
<line x1="720.90" y1="165.55" x2="726.10" y2="165.55" stroke="#111" stroke-width="1.3"/>
<rect x="719.85" y="172.21" width="7.30" height="81.79" fill="#fff" stroke="#111" stroke-width="1.6"/>
<line x1="723.50" y1="254.0" x2="723.50" y2="258.8" stroke="#111" stroke-width="1.4"/>
<line x1="734.90" y1="175.25" x2="734.90" y2="178.08" stroke="#111" stroke-width="1.3"/>
<line x1="732.30" y1="175.25" x2="737.50" y2="175.25" stroke="#111" stroke-width="1.3"/>
<rect x="731.10" y="178.08" width="7.60" height="75.92" fill="#111"/>
<line x1="734.90" y1="254.0" x2="734.90" y2="258.8" stroke="#111" stroke-width="1.4"/>
<line x1="283.6" y1="290.10" x2="283.6" y2="412.0" stroke="#111" stroke-width="1.7"/>
<line x1="282.8" y1="411.3" x2="363.1" y2="411.3" stroke="#111" stroke-width="1.7"/>
<line x1="279.0" y1="411.30" x2="283.6" y2="411.30" stroke="#111" stroke-width="1.5"/>
<text x="278.0" y="415.85" font-family="Liberation Sans, sans-serif" font-weight="bold" font-size="12.7" fill="#111" text-anchor="end">0.0</text>
<line x1="279.0" y1="381.18" x2="283.6" y2="381.18" stroke="#111" stroke-width="1.5"/>
<text x="278.0" y="385.73" font-family="Liberation Sans, sans-serif" font-weight="bold" font-size="12.7" fill="#111" text-anchor="end">0.5</text>
<line x1="279.0" y1="351.05" x2="283.6" y2="351.05" stroke="#111" stroke-width="1.5"/>
<text x="278.0" y="355.60" font-family="Liberation Sans, sans-serif" font-weight="bold" font-size="12.7" fill="#111" text-anchor="end">1.0</text>
<line x1="279.0" y1="320.93" x2="283.6" y2="320.93" stroke="#111" stroke-width="1.5"/>
<text x="278.0" y="325.48" font-family="Liberation Sans, sans-serif" font-weight="bold" font-size="12.7" fill="#111" text-anchor="end">1.5</text>
<line x1="279.0" y1="290.80" x2="283.6" y2="290.80" stroke="#111" stroke-width="1.5"/>
<text x="278.0" y="295.35" font-family="Liberation Sans, sans-serif" font-weight="bold" font-size="12.7" fill="#111" text-anchor="end">2.0</text>
<text transform="translate(256.30,349.05) rotate(-90)" font-family="Liberation Sans, sans-serif" font-weight="bold" font-size="12.7" fill="#111" text-anchor="middle">OD492</text>
<line x1="290.80" y1="379.37" x2="290.80" y2="380.57" stroke="#111" stroke-width="1.3"/>
<line x1="288.20" y1="379.37" x2="293.40" y2="379.37" stroke="#111" stroke-width="1.3"/>
<rect x="287.00" y="380.57" width="7.60" height="30.73" fill="#fd2414"/>
<line x1="290.80" y1="411.3" x2="290.80" y2="416.1" stroke="#111" stroke-width="1.4"/>
<line x1="302.20" y1="377.56" x2="302.20" y2="378.76" stroke="#111" stroke-width="1.3"/>
<line x1="299.60" y1="377.56" x2="304.80" y2="377.56" stroke="#111" stroke-width="1.3"/>
<rect x="298.40" y="378.76" width="7.60" height="32.54" fill="#fd2414"/>
<line x1="302.20" y1="411.3" x2="302.20" y2="416.1" stroke="#111" stroke-width="1.4"/>
<line x1="313.60" y1="326.95" x2="313.60" y2="327.55" stroke="#111" stroke-width="1.3"/>
<line x1="311.00" y1="326.95" x2="316.20" y2="326.95" stroke="#111" stroke-width="1.3"/>
<rect x="309.80" y="327.55" width="7.60" height="83.75" fill="#fd2414"/>
<line x1="313.60" y1="411.3" x2="313.60" y2="416.1" stroke="#111" stroke-width="1.4"/>
<line x1="325.00" y1="352.56" x2="325.00" y2="354.06" stroke="#111" stroke-width="1.3"/>
<line x1="322.40" y1="352.56" x2="327.60" y2="352.56" stroke="#111" stroke-width="1.3"/>
<rect x="321.20" y="354.06" width="7.60" height="57.24" fill="#fd2414"/>
<line x1="325.00" y1="411.3" x2="325.00" y2="416.1" stroke="#111" stroke-width="1.4"/>
<line x1="344.10" y1="319.72" x2="344.10" y2="322.73" stroke="#111" stroke-width="1.3"/>
<line x1="341.50" y1="319.72" x2="346.70" y2="319.72" stroke="#111" stroke-width="1.3"/>
<rect x="340.45" y="323.53" width="7.30" height="87.77" fill="#fff" stroke="#111" stroke-width="1.6"/>
<line x1="344.10" y1="411.3" x2="344.10" y2="416.1" stroke="#111" stroke-width="1.4"/>
<line x1="355.50" y1="328.76" x2="355.50" y2="330.26" stroke="#2da070" stroke-width="1.3"/>
<line x1="352.90" y1="328.76" x2="358.10" y2="328.76" stroke="#2da070" stroke-width="1.3"/>
<rect x="351.70" y="330.26" width="7.60" height="81.04" fill="url(#hatch)"/>
<line x1="355.50" y1="411.3" x2="355.50" y2="416.1" stroke="#111" stroke-width="1.4"/>
<line x1="409.9" y1="290.10" x2="409.9" y2="412.0" stroke="#111" stroke-width="1.7"/>
<line x1="409.09999999999997" y1="411.3" x2="489.4" y2="411.3" stroke="#111" stroke-width="1.7"/>
<line x1="405.29999999999995" y1="411.30" x2="409.9" y2="411.30" stroke="#111" stroke-width="1.5"/>
<text x="404.29999999999995" y="415.85" font-family="Liberation Sans, sans-serif" font-weight="bold" font-size="12.7" fill="#111" text-anchor="end">0.0</text>
<line x1="405.29999999999995" y1="381.18" x2="409.9" y2="381.18" stroke="#111" stroke-width="1.5"/>
<text x="404.29999999999995" y="385.73" font-family="Liberation Sans, sans-serif" font-weight="bold" font-size="12.7" fill="#111" text-anchor="end">0.5</text>
<line x1="405.29999999999995" y1="351.05" x2="409.9" y2="351.05" stroke="#111" stroke-width="1.5"/>
<text x="404.29999999999995" y="355.60" font-family="Liberation Sans, sans-serif" font-weight="bold" font-size="12.7" fill="#111" text-anchor="end">1.0</text>
<line x1="405.29999999999995" y1="320.93" x2="409.9" y2="320.93" stroke="#111" stroke-width="1.5"/>
<text x="404.29999999999995" y="325.48" font-family="Liberation Sans, sans-serif" font-weight="bold" font-size="12.7" fill="#111" text-anchor="end">1.5</text>
<line x1="405.29999999999995" y1="290.80" x2="409.9" y2="290.80" stroke="#111" stroke-width="1.5"/>
<text x="404.29999999999995" y="295.35" font-family="Liberation Sans, sans-serif" font-weight="bold" font-size="12.7" fill="#111" text-anchor="end">2.0</text>
<text transform="translate(382.60,349.05) rotate(-90)" font-family="Liberation Sans, sans-serif" font-weight="bold" font-size="12.7" fill="#111" text-anchor="middle">OD492</text>
<line x1="417.10" y1="352.56" x2="417.10" y2="354.06" stroke="#111" stroke-width="1.3"/>
<line x1="414.50" y1="352.56" x2="419.70" y2="352.56" stroke="#111" stroke-width="1.3"/>
<rect x="413.30" y="354.06" width="7.60" height="57.24" fill="#f8972a"/>
<line x1="417.10" y1="411.3" x2="417.10" y2="416.1" stroke="#111" stroke-width="1.4"/>
<line x1="428.50" y1="397.14" x2="428.50" y2="397.44" stroke="#111" stroke-width="1.3"/>
<line x1="425.90" y1="397.14" x2="431.10" y2="397.14" stroke="#111" stroke-width="1.3"/>
<rect x="424.70" y="397.44" width="7.60" height="13.86" fill="#f8972a"/>
<line x1="428.50" y1="411.3" x2="428.50" y2="416.1" stroke="#111" stroke-width="1.4"/>
<line x1="439.90" y1="379.67" x2="439.90" y2="379.97" stroke="#111" stroke-width="1.3"/>
<line x1="437.30" y1="379.67" x2="442.50" y2="379.67" stroke="#111" stroke-width="1.3"/>
<rect x="436.10" y="379.97" width="7.60" height="31.33" fill="#f8972a"/>
<line x1="439.90" y1="411.3" x2="439.90" y2="416.1" stroke="#111" stroke-width="1.4"/>
<line x1="451.30" y1="372.74" x2="451.30" y2="373.94" stroke="#111" stroke-width="1.3"/>
<line x1="448.70" y1="372.74" x2="453.90" y2="372.74" stroke="#111" stroke-width="1.3"/>
<rect x="447.50" y="373.94" width="7.60" height="37.36" fill="#f8972a"/>
<line x1="451.30" y1="411.3" x2="451.30" y2="416.1" stroke="#111" stroke-width="1.4"/>
<line x1="470.40" y1="322.13" x2="470.40" y2="322.73" stroke="#111" stroke-width="1.3"/>
<line x1="467.80" y1="322.13" x2="473.00" y2="322.13" stroke="#111" stroke-width="1.3"/>
<rect x="466.75" y="323.53" width="7.30" height="87.77" fill="#fff" stroke="#111" stroke-width="1.6"/>
<line x1="470.40" y1="411.3" x2="470.40" y2="416.1" stroke="#111" stroke-width="1.4"/>
<line x1="481.80" y1="328.16" x2="481.80" y2="330.26" stroke="#111" stroke-width="1.3"/>
<line x1="479.20" y1="328.16" x2="484.40" y2="328.16" stroke="#111" stroke-width="1.3"/>
<rect x="478.00" y="330.26" width="7.60" height="81.04" fill="#111"/>
<line x1="481.80" y1="411.3" x2="481.80" y2="416.1" stroke="#111" stroke-width="1.4"/>
<line x1="536.0" y1="290.10" x2="536.0" y2="412.0" stroke="#111" stroke-width="1.7"/>
<line x1="535.2" y1="411.3" x2="615.5" y2="411.3" stroke="#111" stroke-width="1.7"/>
<line x1="531.4" y1="411.30" x2="536.0" y2="411.30" stroke="#111" stroke-width="1.5"/>
<text x="530.4" y="415.85" font-family="Liberation Sans, sans-serif" font-weight="bold" font-size="12.7" fill="#111" text-anchor="end">0.0</text>
<line x1="531.4" y1="381.18" x2="536.0" y2="381.18" stroke="#111" stroke-width="1.5"/>
<text x="530.4" y="385.73" font-family="Liberation Sans, sans-serif" font-weight="bold" font-size="12.7" fill="#111" text-anchor="end">0.5</text>
<line x1="531.4" y1="351.05" x2="536.0" y2="351.05" stroke="#111" stroke-width="1.5"/>
<text x="530.4" y="355.60" font-family="Liberation Sans, sans-serif" font-weight="bold" font-size="12.7" fill="#111" text-anchor="end">1.0</text>
<line x1="531.4" y1="320.93" x2="536.0" y2="320.93" stroke="#111" stroke-width="1.5"/>
<text x="530.4" y="325.48" font-family="Liberation Sans, sans-serif" font-weight="bold" font-size="12.7" fill="#111" text-anchor="end">1.5</text>
<line x1="531.4" y1="290.80" x2="536.0" y2="290.80" stroke="#111" stroke-width="1.5"/>
<text x="530.4" y="295.35" font-family="Liberation Sans, sans-serif" font-weight="bold" font-size="12.7" fill="#111" text-anchor="end">2.0</text>
<text transform="translate(508.70,349.05) rotate(-90)" font-family="Liberation Sans, sans-serif" font-weight="bold" font-size="12.7" fill="#111" text-anchor="middle">OD492</text>
<line x1="543.20" y1="368.52" x2="543.20" y2="371.54" stroke="#111" stroke-width="1.3"/>
<line x1="540.60" y1="368.52" x2="545.80" y2="368.52" stroke="#111" stroke-width="1.3"/>
<rect x="539.40" y="371.54" width="7.60" height="39.76" fill="#17918f"/>
<line x1="543.20" y1="411.3" x2="543.20" y2="416.1" stroke="#111" stroke-width="1.4"/>
<line x1="554.60" y1="360.39" x2="554.60" y2="360.99" stroke="#111" stroke-width="1.3"/>
<line x1="552.00" y1="360.39" x2="557.20" y2="360.39" stroke="#111" stroke-width="1.3"/>
<rect x="550.80" y="360.99" width="7.60" height="50.31" fill="#17918f"/>
<line x1="554.60" y1="411.3" x2="554.60" y2="416.1" stroke="#111" stroke-width="1.4"/>
<line x1="566.00" y1="370.33" x2="566.00" y2="373.34" stroke="#111" stroke-width="1.3"/>
<line x1="563.40" y1="370.33" x2="568.60" y2="370.33" stroke="#111" stroke-width="1.3"/>
<rect x="562.20" y="373.34" width="7.60" height="37.96" fill="#17918f"/>
<line x1="566.00" y1="411.3" x2="566.00" y2="416.1" stroke="#111" stroke-width="1.4"/>
<line x1="577.40" y1="360.99" x2="577.40" y2="361.90" stroke="#111" stroke-width="1.3"/>
<line x1="574.80" y1="360.99" x2="580.00" y2="360.99" stroke="#111" stroke-width="1.3"/>
<rect x="573.60" y="361.90" width="7.60" height="49.40" fill="#17918f"/>
<line x1="577.40" y1="411.3" x2="577.40" y2="416.1" stroke="#111" stroke-width="1.4"/>
<line x1="596.50" y1="317.01" x2="596.50" y2="321.53" stroke="#111" stroke-width="1.3"/>
<line x1="593.90" y1="317.01" x2="599.10" y2="317.01" stroke="#111" stroke-width="1.3"/>
<rect x="592.85" y="322.33" width="7.30" height="88.97" fill="#fff" stroke="#111" stroke-width="1.6"/>
<line x1="596.50" y1="411.3" x2="596.50" y2="416.1" stroke="#111" stroke-width="1.4"/>
<line x1="607.90" y1="328.76" x2="607.90" y2="330.26" stroke="#111" stroke-width="1.3"/>
<line x1="605.30" y1="328.76" x2="610.50" y2="328.76" stroke="#111" stroke-width="1.3"/>
<rect x="604.10" y="330.26" width="7.60" height="81.04" fill="#111"/>
<line x1="607.90" y1="411.3" x2="607.90" y2="416.1" stroke="#111" stroke-width="1.4"/>
<line x1="663.0" y1="290.10" x2="663.0" y2="412.0" stroke="#111" stroke-width="1.7"/>
<line x1="662.2" y1="411.3" x2="742.5" y2="411.3" stroke="#111" stroke-width="1.7"/>
<line x1="658.4" y1="411.30" x2="663.0" y2="411.30" stroke="#111" stroke-width="1.5"/>
<text x="657.4" y="415.85" font-family="Liberation Sans, sans-serif" font-weight="bold" font-size="12.7" fill="#111" text-anchor="end">0.0</text>
<line x1="658.4" y1="381.18" x2="663.0" y2="381.18" stroke="#111" stroke-width="1.5"/>
<text x="657.4" y="385.73" font-family="Liberation Sans, sans-serif" font-weight="bold" font-size="12.7" fill="#111" text-anchor="end">0.5</text>
<line x1="658.4" y1="351.05" x2="663.0" y2="351.05" stroke="#111" stroke-width="1.5"/>
<text x="657.4" y="355.60" font-family="Liberation Sans, sans-serif" font-weight="bold" font-size="12.7" fill="#111" text-anchor="end">1.0</text>
<line x1="658.4" y1="320.93" x2="663.0" y2="320.93" stroke="#111" stroke-width="1.5"/>
<text x="657.4" y="325.48" font-family="Liberation Sans, sans-serif" font-weight="bold" font-size="12.7" fill="#111" text-anchor="end">1.5</text>
<line x1="658.4" y1="290.80" x2="663.0" y2="290.80" stroke="#111" stroke-width="1.5"/>
<text x="657.4" y="295.35" font-family="Liberation Sans, sans-serif" font-weight="bold" font-size="12.7" fill="#111" text-anchor="end">2.0</text>
<text transform="translate(635.70,349.05) rotate(-90)" font-family="Liberation Sans, sans-serif" font-weight="bold" font-size="12.7" fill="#111" text-anchor="middle">OD492</text>
<line x1="670.20" y1="339.00" x2="670.20" y2="345.63" stroke="#111" stroke-width="1.3"/>
<line x1="667.60" y1="339.00" x2="672.80" y2="339.00" stroke="#111" stroke-width="1.3"/>
<rect x="666.40" y="345.63" width="7.60" height="65.67" fill="#1e3aff"/>
<line x1="670.20" y1="411.3" x2="670.20" y2="416.1" stroke="#111" stroke-width="1.4"/>
<line x1="681.60" y1="345.63" x2="681.60" y2="350.75" stroke="#111" stroke-width="1.3"/>
<line x1="679.00" y1="345.63" x2="684.20" y2="345.63" stroke="#111" stroke-width="1.3"/>
<rect x="677.80" y="350.75" width="7.60" height="60.55" fill="#1e3aff"/>
<line x1="681.60" y1="411.3" x2="681.60" y2="416.1" stroke="#111" stroke-width="1.4"/>
<line x1="693.00" y1="385.03" x2="693.00" y2="386.60" stroke="#111" stroke-width="1.3"/>
<line x1="690.40" y1="385.03" x2="695.60" y2="385.03" stroke="#111" stroke-width="1.3"/>
<rect x="689.20" y="386.60" width="7.60" height="24.70" fill="#1e3aff"/>
<line x1="693.00" y1="411.3" x2="693.00" y2="416.1" stroke="#111" stroke-width="1.4"/>
<line x1="704.40" y1="305.56" x2="704.40" y2="307.67" stroke="#111" stroke-width="1.3"/>
<line x1="701.80" y1="305.56" x2="707.00" y2="305.56" stroke="#111" stroke-width="1.3"/>
<rect x="700.60" y="307.67" width="7.60" height="103.63" fill="#1e3aff"/>
<line x1="704.40" y1="411.3" x2="704.40" y2="416.1" stroke="#111" stroke-width="1.4"/>
<line x1="723.50" y1="302.55" x2="723.50" y2="304.06" stroke="#111" stroke-width="1.3"/>
<line x1="720.90" y1="302.55" x2="726.10" y2="302.55" stroke="#111" stroke-width="1.3"/>
<rect x="719.85" y="304.86" width="7.30" height="106.45" fill="#fff" stroke="#111" stroke-width="1.6"/>
<line x1="723.50" y1="411.3" x2="723.50" y2="416.1" stroke="#111" stroke-width="1.4"/>
<line x1="734.90" y1="320.68" x2="734.90" y2="324.18" stroke="#111" stroke-width="1.3"/>
<line x1="732.30" y1="320.68" x2="737.50" y2="320.68" stroke="#111" stroke-width="1.3"/>
<rect x="731.10" y="324.18" width="7.60" height="87.12" fill="#111"/>
<line x1="734.90" y1="411.3" x2="734.90" y2="416.1" stroke="#111" stroke-width="1.4"/>
</svg>
</body></html>
